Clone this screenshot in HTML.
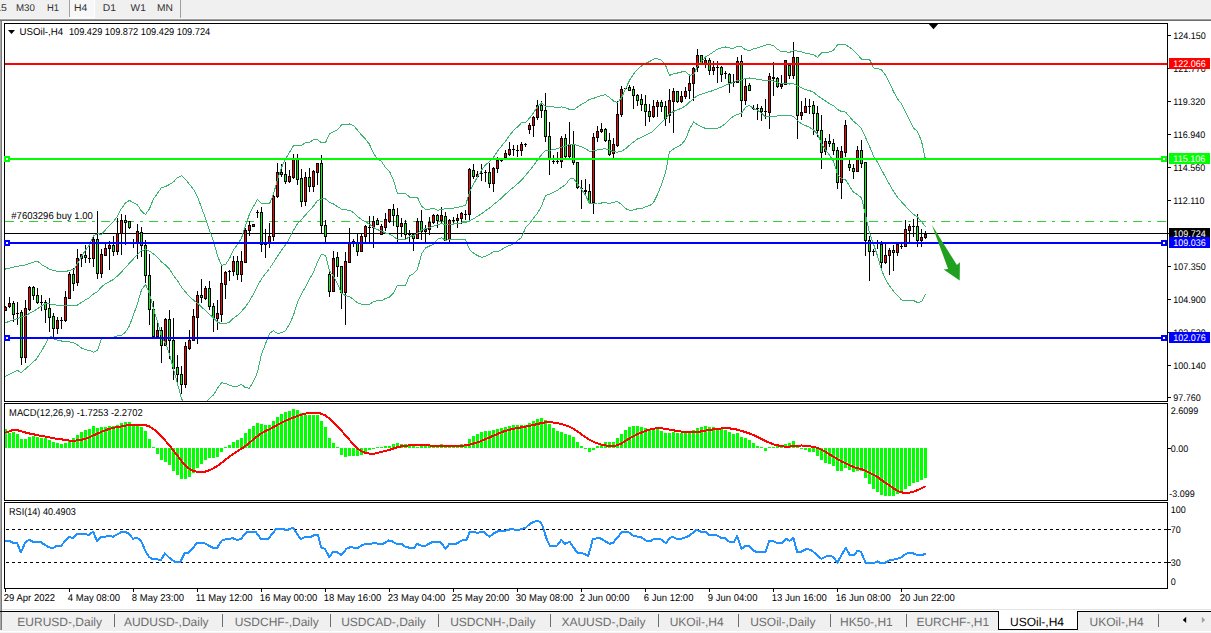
<!DOCTYPE html><html><head><meta charset="utf-8"><style>
html,body{margin:0;padding:0;background:#fff;width:1211px;height:633px;overflow:hidden}
svg{display:block}
text{font-family:"Liberation Sans",sans-serif;text-rendering:geometricPrecision}
</style></head><body>
<svg width="1211" height="633" viewBox="0 0 1211 633">
<rect x="0" y="0" width="1211" height="633" fill="#ffffff"/>
<g shape-rendering="crispEdges">
<rect x="0" y="0" width="1211" height="18" fill="#f0f0f0"/>
<rect x="0" y="18" width="1211" height="1" fill="#f6f6f6"/>
<rect x="0" y="19" width="1211" height="1" fill="#9c9c9c"/>
<rect x="0" y="20" width="1211" height="1" fill="#6e6e6e"/>
<rect x="69" y="0" width="26" height="18" fill="#f7f7f7"/>
<rect x="69" y="0" width="1" height="17" fill="#a0a0a0"/>
<rect x="69" y="17" width="26" height="1" fill="#ffffff"/>
<rect x="94" y="0" width="1" height="18" fill="#ffffff"/>
<rect x="180" y="0" width="1" height="18" fill="#a0a0a0"/>
</g>
<text x="-13.50" y="11.00" font-size="9.8" textLength="20.40" lengthAdjust="spacingAndGlyphs" fill="#333" xml:space="preserve" >M15</text>
<text x="16.00" y="11.00" font-size="9.8" textLength="18.90" lengthAdjust="spacingAndGlyphs" fill="#333" xml:space="preserve" >M30</text>
<text x="47.10" y="11.00" font-size="9.8" textLength="12.00" lengthAdjust="spacingAndGlyphs" fill="#333" xml:space="preserve" >H1</text>
<text x="73.90" y="11.00" font-size="9.8" textLength="13.30" lengthAdjust="spacingAndGlyphs" fill="#333" xml:space="preserve" >H4</text>
<text x="102.70" y="11.00" font-size="9.8" textLength="13.30" lengthAdjust="spacingAndGlyphs" fill="#333" xml:space="preserve" >D1</text>
<text x="130.60" y="11.00" font-size="9.8" textLength="15.20" lengthAdjust="spacingAndGlyphs" fill="#333" xml:space="preserve" >W1</text>
<text x="157.10" y="11.00" font-size="9.8" textLength="15.90" lengthAdjust="spacingAndGlyphs" fill="#333" xml:space="preserve" >MN</text>
<g shape-rendering="crispEdges">
<rect x="0" y="21" width="1" height="591" fill="#a8a8a8"/>
<rect x="1" y="21" width="1" height="591" fill="#7a7a7a"/>
<rect x="0" y="612" width="1" height="18" fill="#a8a8a8"/>
<rect x="1" y="612" width="1" height="18" fill="#7a7a7a"/>
<rect x="4" y="23" width="1164" height="1" fill="#000"/>
<rect x="4" y="401" width="1164" height="1" fill="#000"/>
<rect x="4" y="23" width="1" height="379" fill="#000"/>
<rect x="1167" y="23" width="1" height="379" fill="#000"/>
<rect x="4" y="403" width="1164" height="1" fill="#000"/>
<rect x="4" y="500" width="1164" height="1" fill="#000"/>
<rect x="4" y="403" width="1" height="98" fill="#000"/>
<rect x="1167" y="403" width="1" height="98" fill="#000"/>
<rect x="4" y="502" width="1164" height="1" fill="#000"/>
<rect x="4" y="588" width="1164" height="1" fill="#000"/>
<rect x="4" y="502" width="1" height="87" fill="#000"/>
<rect x="1167" y="502" width="1" height="87" fill="#000"/>
</g>
<svg x="5" y="24" width="1162" height="377" viewBox="5 24 1162 377" overflow="hidden">
<rect x="5" y="233" width="1162" height="1" fill="#000" shape-rendering="crispEdges"/>
<line x1="5" y1="221.5" x2="1167" y2="221.5" stroke="#32cd32" stroke-width="1" stroke-dasharray="9 6 3 6" stroke-dashoffset="0" shape-rendering="crispEdges"/>
<g shape-rendering="crispEdges">
<rect x="5" y="306" width="1" height="5" fill="#000"/>
<rect x="4" y="307" width="3" height="4" fill="#000"/>
<rect x="5" y="308" width="1" height="2" fill="#ff0000"/>
<rect x="9" y="297" width="1" height="11" fill="#000"/>
<rect x="8" y="303" width="3" height="4" fill="#000"/>
<rect x="9" y="304" width="1" height="2" fill="#ff0000"/>
<rect x="13" y="301" width="1" height="21" fill="#000"/>
<rect x="12" y="303" width="3" height="12" fill="#000"/>
<rect x="13" y="304" width="1" height="10" fill="#00ff00"/>
<rect x="17" y="302" width="1" height="23" fill="#000"/>
<rect x="16" y="313" width="3" height="1" fill="#000"/>
<rect x="21" y="310" width="1" height="55" fill="#000"/>
<rect x="20" y="312" width="3" height="46" fill="#000"/>
<rect x="21" y="313" width="1" height="44" fill="#00ff00"/>
<rect x="25" y="300" width="1" height="63" fill="#000"/>
<rect x="24" y="308" width="3" height="50" fill="#000"/>
<rect x="25" y="309" width="1" height="48" fill="#ff0000"/>
<rect x="29" y="286" width="1" height="25" fill="#000"/>
<rect x="28" y="287" width="3" height="23" fill="#000"/>
<rect x="29" y="288" width="1" height="21" fill="#ff0000"/>
<rect x="33" y="286" width="1" height="14" fill="#000"/>
<rect x="32" y="287" width="3" height="9" fill="#000"/>
<rect x="33" y="288" width="1" height="7" fill="#00ff00"/>
<rect x="37" y="288" width="1" height="16" fill="#000"/>
<rect x="36" y="295" width="3" height="8" fill="#000"/>
<rect x="37" y="296" width="1" height="6" fill="#00ff00"/>
<rect x="41" y="295" width="1" height="16" fill="#000"/>
<rect x="40" y="302" width="3" height="1" fill="#000"/>
<rect x="45" y="300" width="1" height="23" fill="#000"/>
<rect x="44" y="302" width="3" height="8" fill="#000"/>
<rect x="45" y="303" width="1" height="6" fill="#00ff00"/>
<rect x="49" y="298" width="1" height="34" fill="#000"/>
<rect x="48" y="308" width="3" height="10" fill="#000"/>
<rect x="49" y="309" width="1" height="8" fill="#00ff00"/>
<rect x="53" y="313" width="1" height="25" fill="#000"/>
<rect x="52" y="316" width="3" height="13" fill="#000"/>
<rect x="53" y="317" width="1" height="11" fill="#00ff00"/>
<rect x="57" y="317" width="1" height="17" fill="#000"/>
<rect x="56" y="320" width="3" height="9" fill="#000"/>
<rect x="57" y="321" width="1" height="7" fill="#ff0000"/>
<rect x="61" y="317" width="1" height="12" fill="#000"/>
<rect x="60" y="320" width="3" height="1" fill="#000"/>
<rect x="65" y="291" width="1" height="31" fill="#000"/>
<rect x="64" y="297" width="3" height="24" fill="#000"/>
<rect x="65" y="298" width="1" height="22" fill="#ff0000"/>
<rect x="69" y="272" width="1" height="27" fill="#000"/>
<rect x="68" y="274" width="3" height="25" fill="#000"/>
<rect x="69" y="275" width="1" height="23" fill="#ff0000"/>
<rect x="73" y="268" width="1" height="23" fill="#000"/>
<rect x="72" y="274" width="3" height="10" fill="#000"/>
<rect x="73" y="275" width="1" height="8" fill="#00ff00"/>
<rect x="77" y="249" width="1" height="37" fill="#000"/>
<rect x="76" y="258" width="3" height="25" fill="#000"/>
<rect x="77" y="259" width="1" height="23" fill="#ff0000"/>
<rect x="81" y="254" width="1" height="13" fill="#000"/>
<rect x="80" y="254" width="3" height="5" fill="#000"/>
<rect x="81" y="255" width="1" height="3" fill="#ff0000"/>
<rect x="85" y="245" width="1" height="18" fill="#000"/>
<rect x="84" y="255" width="3" height="3" fill="#000"/>
<rect x="85" y="256" width="1" height="1" fill="#00ff00"/>
<rect x="89" y="246" width="1" height="17" fill="#000"/>
<rect x="88" y="258" width="3" height="1" fill="#000"/>
<rect x="93" y="237" width="1" height="30" fill="#000"/>
<rect x="92" y="239" width="3" height="20" fill="#000"/>
<rect x="93" y="240" width="1" height="18" fill="#ff0000"/>
<rect x="97" y="211" width="1" height="68" fill="#000"/>
<rect x="96" y="239" width="3" height="35" fill="#000"/>
<rect x="97" y="240" width="1" height="33" fill="#00ff00"/>
<rect x="101" y="249" width="1" height="29" fill="#000"/>
<rect x="100" y="254" width="3" height="20" fill="#000"/>
<rect x="101" y="255" width="1" height="18" fill="#ff0000"/>
<rect x="105" y="244" width="1" height="12" fill="#000"/>
<rect x="104" y="248" width="3" height="8" fill="#000"/>
<rect x="105" y="249" width="1" height="6" fill="#ff0000"/>
<rect x="109" y="241" width="1" height="29" fill="#000"/>
<rect x="108" y="245" width="3" height="4" fill="#000"/>
<rect x="109" y="246" width="1" height="2" fill="#ff0000"/>
<rect x="113" y="236" width="1" height="20" fill="#000"/>
<rect x="112" y="245" width="3" height="7" fill="#000"/>
<rect x="113" y="246" width="1" height="5" fill="#00ff00"/>
<rect x="117" y="218" width="1" height="37" fill="#000"/>
<rect x="116" y="233" width="3" height="19" fill="#000"/>
<rect x="117" y="234" width="1" height="17" fill="#ff0000"/>
<rect x="121" y="214" width="1" height="41" fill="#000"/>
<rect x="120" y="220" width="3" height="14" fill="#000"/>
<rect x="121" y="221" width="1" height="12" fill="#ff0000"/>
<rect x="125" y="215" width="1" height="30" fill="#000"/>
<rect x="124" y="220" width="3" height="3" fill="#000"/>
<rect x="125" y="221" width="1" height="1" fill="#00ff00"/>
<rect x="129" y="221" width="1" height="8" fill="#000"/>
<rect x="128" y="221" width="3" height="7" fill="#000"/>
<rect x="129" y="222" width="1" height="5" fill="#00ff00"/>
<rect x="133" y="239" width="1" height="9" fill="#000"/>
<rect x="132" y="242" width="3" height="1" fill="#000"/>
<rect x="137" y="224" width="1" height="35" fill="#000"/>
<rect x="136" y="231" width="3" height="12" fill="#000"/>
<rect x="137" y="232" width="1" height="10" fill="#ff0000"/>
<rect x="141" y="227" width="1" height="30" fill="#000"/>
<rect x="140" y="232" width="3" height="14" fill="#000"/>
<rect x="141" y="233" width="1" height="12" fill="#00ff00"/>
<rect x="145" y="240" width="1" height="43" fill="#000"/>
<rect x="144" y="245" width="3" height="31" fill="#000"/>
<rect x="145" y="246" width="1" height="29" fill="#00ff00"/>
<rect x="149" y="254" width="1" height="71" fill="#000"/>
<rect x="148" y="275" width="3" height="35" fill="#000"/>
<rect x="149" y="276" width="1" height="33" fill="#00ff00"/>
<rect x="153" y="301" width="1" height="36" fill="#000"/>
<rect x="152" y="309" width="3" height="28" fill="#000"/>
<rect x="153" y="310" width="1" height="26" fill="#00ff00"/>
<rect x="157" y="323" width="1" height="14" fill="#000"/>
<rect x="156" y="330" width="3" height="7" fill="#000"/>
<rect x="157" y="331" width="1" height="5" fill="#ff0000"/>
<rect x="161" y="327" width="1" height="36" fill="#000"/>
<rect x="160" y="330" width="3" height="16" fill="#000"/>
<rect x="161" y="331" width="1" height="14" fill="#00ff00"/>
<rect x="165" y="318" width="1" height="28" fill="#000"/>
<rect x="164" y="319" width="3" height="27" fill="#000"/>
<rect x="165" y="320" width="1" height="25" fill="#ff0000"/>
<rect x="169" y="310" width="1" height="49" fill="#000"/>
<rect x="168" y="319" width="3" height="22" fill="#000"/>
<rect x="169" y="320" width="1" height="20" fill="#00ff00"/>
<rect x="173" y="318" width="1" height="62" fill="#000"/>
<rect x="172" y="340" width="3" height="29" fill="#000"/>
<rect x="173" y="341" width="1" height="27" fill="#00ff00"/>
<rect x="177" y="355" width="1" height="27" fill="#000"/>
<rect x="176" y="367" width="3" height="8" fill="#000"/>
<rect x="177" y="368" width="1" height="6" fill="#00ff00"/>
<rect x="181" y="366" width="1" height="28" fill="#000"/>
<rect x="180" y="374" width="3" height="11" fill="#000"/>
<rect x="181" y="375" width="1" height="9" fill="#00ff00"/>
<rect x="185" y="342" width="1" height="46" fill="#000"/>
<rect x="184" y="346" width="3" height="39" fill="#000"/>
<rect x="185" y="347" width="1" height="37" fill="#ff0000"/>
<rect x="189" y="330" width="1" height="20" fill="#000"/>
<rect x="188" y="340" width="3" height="9" fill="#000"/>
<rect x="189" y="341" width="1" height="7" fill="#ff0000"/>
<rect x="193" y="309" width="1" height="32" fill="#000"/>
<rect x="192" y="316" width="3" height="25" fill="#000"/>
<rect x="193" y="317" width="1" height="23" fill="#ff0000"/>
<rect x="197" y="291" width="1" height="53" fill="#000"/>
<rect x="196" y="295" width="3" height="23" fill="#000"/>
<rect x="197" y="296" width="1" height="21" fill="#ff0000"/>
<rect x="201" y="279" width="1" height="24" fill="#000"/>
<rect x="200" y="295" width="3" height="3" fill="#000"/>
<rect x="201" y="296" width="1" height="1" fill="#00ff00"/>
<rect x="205" y="286" width="1" height="14" fill="#000"/>
<rect x="204" y="288" width="3" height="11" fill="#000"/>
<rect x="205" y="289" width="1" height="9" fill="#ff0000"/>
<rect x="209" y="281" width="1" height="29" fill="#000"/>
<rect x="208" y="288" width="3" height="19" fill="#000"/>
<rect x="209" y="289" width="1" height="17" fill="#00ff00"/>
<rect x="213" y="303" width="1" height="29" fill="#000"/>
<rect x="212" y="306" width="3" height="12" fill="#000"/>
<rect x="213" y="307" width="1" height="10" fill="#00ff00"/>
<rect x="217" y="300" width="1" height="30" fill="#000"/>
<rect x="216" y="313" width="3" height="6" fill="#000"/>
<rect x="217" y="314" width="1" height="4" fill="#ff0000"/>
<rect x="221" y="266" width="1" height="56" fill="#000"/>
<rect x="220" y="283" width="3" height="32" fill="#000"/>
<rect x="221" y="284" width="1" height="30" fill="#ff0000"/>
<rect x="225" y="271" width="1" height="28" fill="#000"/>
<rect x="224" y="272" width="3" height="13" fill="#000"/>
<rect x="225" y="273" width="1" height="11" fill="#ff0000"/>
<rect x="229" y="270" width="1" height="11" fill="#000"/>
<rect x="228" y="271" width="3" height="1" fill="#000"/>
<rect x="233" y="256" width="1" height="20" fill="#000"/>
<rect x="232" y="261" width="3" height="11" fill="#000"/>
<rect x="233" y="262" width="1" height="9" fill="#ff0000"/>
<rect x="237" y="256" width="1" height="24" fill="#000"/>
<rect x="236" y="261" width="3" height="14" fill="#000"/>
<rect x="237" y="262" width="1" height="12" fill="#00ff00"/>
<rect x="241" y="251" width="1" height="31" fill="#000"/>
<rect x="240" y="261" width="3" height="14" fill="#000"/>
<rect x="241" y="262" width="1" height="12" fill="#ff0000"/>
<rect x="245" y="228" width="1" height="35" fill="#000"/>
<rect x="244" y="230" width="3" height="33" fill="#000"/>
<rect x="245" y="231" width="1" height="31" fill="#ff0000"/>
<rect x="249" y="221" width="1" height="15" fill="#000"/>
<rect x="248" y="225" width="3" height="6" fill="#000"/>
<rect x="249" y="226" width="1" height="4" fill="#ff0000"/>
<rect x="253" y="224" width="1" height="3" fill="#000"/>
<rect x="252" y="224" width="3" height="3" fill="#000"/>
<rect x="253" y="225" width="1" height="1" fill="#ff0000"/>
<rect x="257" y="210" width="1" height="8" fill="#000"/>
<rect x="256" y="212" width="3" height="1" fill="#000"/>
<rect x="261" y="207" width="1" height="45" fill="#000"/>
<rect x="260" y="212" width="3" height="33" fill="#000"/>
<rect x="261" y="213" width="1" height="31" fill="#00ff00"/>
<rect x="265" y="229" width="1" height="29" fill="#000"/>
<rect x="264" y="244" width="3" height="1" fill="#000"/>
<rect x="269" y="223" width="1" height="25" fill="#000"/>
<rect x="268" y="236" width="3" height="7" fill="#000"/>
<rect x="269" y="237" width="1" height="5" fill="#ff0000"/>
<rect x="273" y="195" width="1" height="46" fill="#000"/>
<rect x="272" y="196" width="3" height="41" fill="#000"/>
<rect x="273" y="197" width="1" height="39" fill="#ff0000"/>
<rect x="277" y="163" width="1" height="35" fill="#000"/>
<rect x="276" y="172" width="3" height="25" fill="#000"/>
<rect x="277" y="173" width="1" height="23" fill="#ff0000"/>
<rect x="281" y="164" width="1" height="13" fill="#000"/>
<rect x="280" y="172" width="3" height="3" fill="#000"/>
<rect x="281" y="173" width="1" height="1" fill="#00ff00"/>
<rect x="285" y="162" width="1" height="22" fill="#000"/>
<rect x="284" y="174" width="3" height="8" fill="#000"/>
<rect x="285" y="175" width="1" height="6" fill="#00ff00"/>
<rect x="289" y="170" width="1" height="13" fill="#000"/>
<rect x="288" y="176" width="3" height="6" fill="#000"/>
<rect x="289" y="177" width="1" height="4" fill="#ff0000"/>
<rect x="293" y="154" width="1" height="25" fill="#000"/>
<rect x="292" y="159" width="3" height="19" fill="#000"/>
<rect x="293" y="160" width="1" height="17" fill="#ff0000"/>
<rect x="297" y="154" width="1" height="31" fill="#000"/>
<rect x="296" y="159" width="3" height="21" fill="#000"/>
<rect x="297" y="160" width="1" height="19" fill="#00ff00"/>
<rect x="301" y="169" width="1" height="38" fill="#000"/>
<rect x="300" y="178" width="3" height="24" fill="#000"/>
<rect x="301" y="179" width="1" height="22" fill="#00ff00"/>
<rect x="305" y="172" width="1" height="34" fill="#000"/>
<rect x="304" y="177" width="3" height="25" fill="#000"/>
<rect x="305" y="178" width="1" height="23" fill="#ff0000"/>
<rect x="309" y="168" width="1" height="24" fill="#000"/>
<rect x="308" y="177" width="3" height="10" fill="#000"/>
<rect x="309" y="178" width="1" height="8" fill="#00ff00"/>
<rect x="313" y="170" width="1" height="22" fill="#000"/>
<rect x="312" y="171" width="3" height="16" fill="#000"/>
<rect x="313" y="172" width="1" height="14" fill="#ff0000"/>
<rect x="317" y="163" width="1" height="22" fill="#000"/>
<rect x="316" y="163" width="3" height="10" fill="#000"/>
<rect x="317" y="164" width="1" height="8" fill="#ff0000"/>
<rect x="321" y="155" width="1" height="79" fill="#000"/>
<rect x="320" y="163" width="3" height="63" fill="#000"/>
<rect x="321" y="164" width="1" height="61" fill="#00ff00"/>
<rect x="325" y="220" width="1" height="24" fill="#000"/>
<rect x="324" y="225" width="3" height="12" fill="#000"/>
<rect x="325" y="226" width="1" height="10" fill="#00ff00"/>
<rect x="329" y="271" width="1" height="26" fill="#000"/>
<rect x="328" y="274" width="3" height="18" fill="#000"/>
<rect x="329" y="275" width="1" height="16" fill="#00ff00"/>
<rect x="333" y="251" width="1" height="41" fill="#000"/>
<rect x="332" y="258" width="3" height="34" fill="#000"/>
<rect x="333" y="259" width="1" height="32" fill="#ff0000"/>
<rect x="337" y="252" width="1" height="25" fill="#000"/>
<rect x="336" y="257" width="3" height="10" fill="#000"/>
<rect x="337" y="258" width="1" height="8" fill="#00ff00"/>
<rect x="341" y="266" width="1" height="43" fill="#000"/>
<rect x="340" y="266" width="3" height="27" fill="#000"/>
<rect x="341" y="267" width="1" height="25" fill="#00ff00"/>
<rect x="345" y="252" width="1" height="73" fill="#000"/>
<rect x="344" y="261" width="3" height="32" fill="#000"/>
<rect x="345" y="262" width="1" height="30" fill="#ff0000"/>
<rect x="349" y="228" width="1" height="35" fill="#000"/>
<rect x="348" y="243" width="3" height="20" fill="#000"/>
<rect x="349" y="244" width="1" height="18" fill="#ff0000"/>
<rect x="353" y="239" width="1" height="8" fill="#000"/>
<rect x="352" y="241" width="3" height="1" fill="#000"/>
<rect x="357" y="234" width="1" height="22" fill="#000"/>
<rect x="356" y="243" width="3" height="9" fill="#000"/>
<rect x="357" y="244" width="1" height="7" fill="#00ff00"/>
<rect x="361" y="234" width="1" height="18" fill="#000"/>
<rect x="360" y="236" width="3" height="16" fill="#000"/>
<rect x="361" y="237" width="1" height="14" fill="#ff0000"/>
<rect x="365" y="225" width="1" height="18" fill="#000"/>
<rect x="364" y="226" width="3" height="11" fill="#000"/>
<rect x="365" y="227" width="1" height="9" fill="#ff0000"/>
<rect x="369" y="216" width="1" height="27" fill="#000"/>
<rect x="368" y="227" width="3" height="1" fill="#000"/>
<rect x="373" y="216" width="1" height="32" fill="#000"/>
<rect x="372" y="221" width="3" height="7" fill="#000"/>
<rect x="373" y="222" width="1" height="5" fill="#ff0000"/>
<rect x="377" y="218" width="1" height="7" fill="#000"/>
<rect x="376" y="220" width="3" height="5" fill="#000"/>
<rect x="377" y="221" width="1" height="3" fill="#00ff00"/>
<rect x="381" y="224" width="1" height="11" fill="#000"/>
<rect x="380" y="226" width="3" height="9" fill="#000"/>
<rect x="381" y="227" width="1" height="7" fill="#ff0000"/>
<rect x="385" y="213" width="1" height="18" fill="#000"/>
<rect x="384" y="219" width="3" height="9" fill="#000"/>
<rect x="385" y="220" width="1" height="7" fill="#ff0000"/>
<rect x="389" y="209" width="1" height="14" fill="#000"/>
<rect x="388" y="209" width="3" height="13" fill="#000"/>
<rect x="389" y="210" width="1" height="11" fill="#ff0000"/>
<rect x="393" y="204" width="1" height="22" fill="#000"/>
<rect x="392" y="209" width="3" height="7" fill="#000"/>
<rect x="393" y="210" width="1" height="5" fill="#00ff00"/>
<rect x="397" y="208" width="1" height="35" fill="#000"/>
<rect x="396" y="215" width="3" height="12" fill="#000"/>
<rect x="397" y="216" width="1" height="10" fill="#00ff00"/>
<rect x="401" y="218" width="1" height="19" fill="#000"/>
<rect x="400" y="223" width="3" height="4" fill="#000"/>
<rect x="401" y="224" width="1" height="2" fill="#ff0000"/>
<rect x="405" y="220" width="1" height="20" fill="#000"/>
<rect x="404" y="223" width="3" height="12" fill="#000"/>
<rect x="405" y="224" width="1" height="10" fill="#00ff00"/>
<rect x="409" y="230" width="1" height="13" fill="#000"/>
<rect x="408" y="234" width="3" height="1" fill="#000"/>
<rect x="413" y="234" width="1" height="17" fill="#000"/>
<rect x="412" y="234" width="3" height="5" fill="#000"/>
<rect x="413" y="235" width="1" height="3" fill="#00ff00"/>
<rect x="417" y="218" width="1" height="21" fill="#000"/>
<rect x="416" y="221" width="3" height="18" fill="#000"/>
<rect x="417" y="222" width="1" height="16" fill="#ff0000"/>
<rect x="421" y="210" width="1" height="30" fill="#000"/>
<rect x="420" y="221" width="3" height="11" fill="#000"/>
<rect x="421" y="222" width="1" height="9" fill="#00ff00"/>
<rect x="425" y="225" width="1" height="18" fill="#000"/>
<rect x="424" y="229" width="3" height="3" fill="#000"/>
<rect x="425" y="230" width="1" height="1" fill="#ff0000"/>
<rect x="429" y="217" width="1" height="18" fill="#000"/>
<rect x="428" y="222" width="3" height="8" fill="#000"/>
<rect x="429" y="223" width="1" height="6" fill="#ff0000"/>
<rect x="433" y="214" width="1" height="10" fill="#000"/>
<rect x="432" y="215" width="3" height="8" fill="#000"/>
<rect x="433" y="216" width="1" height="6" fill="#ff0000"/>
<rect x="437" y="214" width="1" height="14" fill="#000"/>
<rect x="436" y="215" width="3" height="6" fill="#000"/>
<rect x="437" y="216" width="1" height="4" fill="#00ff00"/>
<rect x="441" y="207" width="1" height="16" fill="#000"/>
<rect x="440" y="215" width="3" height="6" fill="#000"/>
<rect x="441" y="216" width="1" height="4" fill="#ff0000"/>
<rect x="445" y="212" width="1" height="29" fill="#000"/>
<rect x="444" y="216" width="3" height="25" fill="#000"/>
<rect x="445" y="217" width="1" height="23" fill="#00ff00"/>
<rect x="449" y="219" width="1" height="23" fill="#000"/>
<rect x="448" y="220" width="3" height="20" fill="#000"/>
<rect x="449" y="221" width="1" height="18" fill="#ff0000"/>
<rect x="453" y="217" width="1" height="6" fill="#000"/>
<rect x="452" y="220" width="3" height="1" fill="#000"/>
<rect x="457" y="214" width="1" height="14" fill="#000"/>
<rect x="456" y="218" width="3" height="3" fill="#000"/>
<rect x="457" y="219" width="1" height="1" fill="#ff0000"/>
<rect x="461" y="212" width="1" height="12" fill="#000"/>
<rect x="460" y="213" width="3" height="6" fill="#000"/>
<rect x="461" y="214" width="1" height="4" fill="#ff0000"/>
<rect x="465" y="210" width="1" height="10" fill="#000"/>
<rect x="464" y="214" width="3" height="1" fill="#000"/>
<rect x="469" y="168" width="1" height="53" fill="#000"/>
<rect x="468" y="169" width="3" height="46" fill="#000"/>
<rect x="469" y="170" width="1" height="44" fill="#ff0000"/>
<rect x="473" y="164" width="1" height="15" fill="#000"/>
<rect x="472" y="170" width="3" height="7" fill="#000"/>
<rect x="473" y="171" width="1" height="5" fill="#00ff00"/>
<rect x="477" y="171" width="1" height="7" fill="#000"/>
<rect x="476" y="174" width="3" height="3" fill="#000"/>
<rect x="477" y="175" width="1" height="1" fill="#ff0000"/>
<rect x="481" y="164" width="1" height="17" fill="#000"/>
<rect x="480" y="173" width="3" height="1" fill="#000"/>
<rect x="485" y="170" width="1" height="12" fill="#000"/>
<rect x="484" y="172" width="3" height="1" fill="#000"/>
<rect x="489" y="163" width="1" height="25" fill="#000"/>
<rect x="488" y="172" width="3" height="12" fill="#000"/>
<rect x="489" y="173" width="1" height="10" fill="#00ff00"/>
<rect x="493" y="167" width="1" height="25" fill="#000"/>
<rect x="492" y="168" width="3" height="16" fill="#000"/>
<rect x="493" y="169" width="1" height="14" fill="#ff0000"/>
<rect x="497" y="157" width="1" height="16" fill="#000"/>
<rect x="496" y="160" width="3" height="9" fill="#000"/>
<rect x="497" y="161" width="1" height="7" fill="#ff0000"/>
<rect x="501" y="159" width="1" height="3" fill="#000"/>
<rect x="500" y="160" width="3" height="1" fill="#000"/>
<rect x="505" y="150" width="1" height="8" fill="#000"/>
<rect x="504" y="153" width="3" height="5" fill="#000"/>
<rect x="505" y="154" width="1" height="3" fill="#ff0000"/>
<rect x="509" y="142" width="1" height="14" fill="#000"/>
<rect x="508" y="149" width="3" height="6" fill="#000"/>
<rect x="509" y="150" width="1" height="4" fill="#ff0000"/>
<rect x="513" y="145" width="1" height="11" fill="#000"/>
<rect x="512" y="149" width="3" height="1" fill="#000"/>
<rect x="517" y="145" width="1" height="12" fill="#000"/>
<rect x="516" y="150" width="3" height="1" fill="#000"/>
<rect x="521" y="142" width="1" height="14" fill="#000"/>
<rect x="520" y="144" width="3" height="7" fill="#000"/>
<rect x="521" y="145" width="1" height="5" fill="#ff0000"/>
<rect x="525" y="143" width="1" height="4" fill="#000"/>
<rect x="524" y="144" width="3" height="1" fill="#000"/>
<rect x="529" y="123" width="1" height="11" fill="#000"/>
<rect x="528" y="125" width="3" height="5" fill="#000"/>
<rect x="529" y="126" width="1" height="3" fill="#ff0000"/>
<rect x="533" y="116" width="1" height="21" fill="#000"/>
<rect x="532" y="117" width="3" height="9" fill="#000"/>
<rect x="533" y="118" width="1" height="7" fill="#ff0000"/>
<rect x="537" y="100" width="1" height="20" fill="#000"/>
<rect x="536" y="105" width="3" height="13" fill="#000"/>
<rect x="537" y="106" width="1" height="11" fill="#ff0000"/>
<rect x="541" y="101" width="1" height="17" fill="#000"/>
<rect x="540" y="105" width="3" height="6" fill="#000"/>
<rect x="541" y="106" width="1" height="4" fill="#00ff00"/>
<rect x="545" y="93" width="1" height="49" fill="#000"/>
<rect x="544" y="110" width="3" height="27" fill="#000"/>
<rect x="545" y="111" width="1" height="25" fill="#00ff00"/>
<rect x="549" y="122" width="1" height="53" fill="#000"/>
<rect x="548" y="136" width="3" height="23" fill="#000"/>
<rect x="549" y="137" width="1" height="21" fill="#00ff00"/>
<rect x="553" y="155" width="1" height="9" fill="#000"/>
<rect x="552" y="161" width="3" height="1" fill="#000"/>
<rect x="557" y="152" width="1" height="12" fill="#000"/>
<rect x="556" y="161" width="3" height="1" fill="#000"/>
<rect x="561" y="136" width="1" height="32" fill="#000"/>
<rect x="560" y="138" width="3" height="24" fill="#000"/>
<rect x="561" y="139" width="1" height="22" fill="#ff0000"/>
<rect x="565" y="134" width="1" height="25" fill="#000"/>
<rect x="564" y="138" width="3" height="19" fill="#000"/>
<rect x="565" y="139" width="1" height="17" fill="#00ff00"/>
<rect x="569" y="122" width="1" height="36" fill="#000"/>
<rect x="568" y="144" width="3" height="13" fill="#000"/>
<rect x="569" y="145" width="1" height="11" fill="#ff0000"/>
<rect x="573" y="131" width="1" height="34" fill="#000"/>
<rect x="572" y="144" width="3" height="19" fill="#000"/>
<rect x="573" y="145" width="1" height="17" fill="#00ff00"/>
<rect x="577" y="162" width="1" height="27" fill="#000"/>
<rect x="576" y="162" width="3" height="26" fill="#000"/>
<rect x="577" y="163" width="1" height="24" fill="#00ff00"/>
<rect x="581" y="180" width="1" height="29" fill="#000"/>
<rect x="580" y="188" width="3" height="1" fill="#000"/>
<rect x="585" y="179" width="1" height="15" fill="#000"/>
<rect x="584" y="190" width="3" height="2" fill="#000"/>
<rect x="589" y="184" width="1" height="20" fill="#000"/>
<rect x="588" y="191" width="3" height="12" fill="#000"/>
<rect x="589" y="192" width="1" height="10" fill="#00ff00"/>
<rect x="593" y="133" width="1" height="81" fill="#000"/>
<rect x="592" y="137" width="3" height="66" fill="#000"/>
<rect x="593" y="138" width="1" height="64" fill="#ff0000"/>
<rect x="597" y="126" width="1" height="16" fill="#000"/>
<rect x="596" y="131" width="3" height="7" fill="#000"/>
<rect x="597" y="132" width="1" height="5" fill="#ff0000"/>
<rect x="601" y="123" width="1" height="10" fill="#000"/>
<rect x="600" y="129" width="3" height="3" fill="#000"/>
<rect x="601" y="130" width="1" height="1" fill="#ff0000"/>
<rect x="605" y="128" width="1" height="14" fill="#000"/>
<rect x="604" y="129" width="3" height="12" fill="#000"/>
<rect x="605" y="130" width="1" height="10" fill="#00ff00"/>
<rect x="609" y="133" width="1" height="23" fill="#000"/>
<rect x="608" y="140" width="3" height="15" fill="#000"/>
<rect x="609" y="141" width="1" height="13" fill="#00ff00"/>
<rect x="613" y="138" width="1" height="21" fill="#000"/>
<rect x="612" y="144" width="3" height="10" fill="#000"/>
<rect x="613" y="145" width="1" height="8" fill="#ff0000"/>
<rect x="617" y="101" width="1" height="46" fill="#000"/>
<rect x="616" y="114" width="3" height="32" fill="#000"/>
<rect x="617" y="115" width="1" height="30" fill="#ff0000"/>
<rect x="621" y="86" width="1" height="31" fill="#000"/>
<rect x="620" y="89" width="3" height="26" fill="#000"/>
<rect x="621" y="90" width="1" height="24" fill="#ff0000"/>
<rect x="625" y="88" width="1" height="2" fill="#000"/>
<rect x="624" y="88" width="3" height="1" fill="#000"/>
<rect x="629" y="85" width="1" height="6" fill="#000"/>
<rect x="628" y="87" width="3" height="4" fill="#000"/>
<rect x="629" y="88" width="1" height="2" fill="#00ff00"/>
<rect x="633" y="86" width="1" height="23" fill="#000"/>
<rect x="632" y="89" width="3" height="7" fill="#000"/>
<rect x="633" y="90" width="1" height="5" fill="#00ff00"/>
<rect x="637" y="94" width="1" height="12" fill="#000"/>
<rect x="636" y="95" width="3" height="6" fill="#000"/>
<rect x="637" y="96" width="1" height="4" fill="#00ff00"/>
<rect x="641" y="94" width="1" height="17" fill="#000"/>
<rect x="640" y="99" width="3" height="6" fill="#000"/>
<rect x="641" y="100" width="1" height="4" fill="#00ff00"/>
<rect x="645" y="95" width="1" height="31" fill="#000"/>
<rect x="644" y="104" width="3" height="8" fill="#000"/>
<rect x="645" y="105" width="1" height="6" fill="#00ff00"/>
<rect x="649" y="104" width="1" height="18" fill="#000"/>
<rect x="648" y="111" width="3" height="6" fill="#000"/>
<rect x="649" y="112" width="1" height="4" fill="#00ff00"/>
<rect x="653" y="100" width="1" height="18" fill="#000"/>
<rect x="652" y="106" width="3" height="11" fill="#000"/>
<rect x="653" y="107" width="1" height="9" fill="#ff0000"/>
<rect x="657" y="100" width="1" height="17" fill="#000"/>
<rect x="656" y="102" width="3" height="5" fill="#000"/>
<rect x="657" y="103" width="1" height="3" fill="#ff0000"/>
<rect x="661" y="100" width="1" height="12" fill="#000"/>
<rect x="660" y="102" width="3" height="5" fill="#000"/>
<rect x="661" y="103" width="1" height="3" fill="#00ff00"/>
<rect x="665" y="101" width="1" height="25" fill="#000"/>
<rect x="664" y="106" width="3" height="13" fill="#000"/>
<rect x="665" y="107" width="1" height="11" fill="#00ff00"/>
<rect x="669" y="89" width="1" height="34" fill="#000"/>
<rect x="668" y="100" width="3" height="16" fill="#000"/>
<rect x="669" y="101" width="1" height="14" fill="#ff0000"/>
<rect x="673" y="88" width="1" height="45" fill="#000"/>
<rect x="672" y="91" width="3" height="11" fill="#000"/>
<rect x="673" y="92" width="1" height="9" fill="#ff0000"/>
<rect x="677" y="91" width="1" height="12" fill="#000"/>
<rect x="676" y="91" width="3" height="11" fill="#000"/>
<rect x="677" y="92" width="1" height="9" fill="#00ff00"/>
<rect x="681" y="91" width="1" height="12" fill="#000"/>
<rect x="680" y="96" width="3" height="6" fill="#000"/>
<rect x="681" y="97" width="1" height="4" fill="#ff0000"/>
<rect x="685" y="87" width="1" height="12" fill="#000"/>
<rect x="684" y="91" width="3" height="6" fill="#000"/>
<rect x="685" y="92" width="1" height="4" fill="#ff0000"/>
<rect x="689" y="75" width="1" height="24" fill="#000"/>
<rect x="688" y="83" width="3" height="8" fill="#000"/>
<rect x="689" y="84" width="1" height="6" fill="#ff0000"/>
<rect x="693" y="67" width="1" height="34" fill="#000"/>
<rect x="692" y="68" width="3" height="16" fill="#000"/>
<rect x="693" y="69" width="1" height="14" fill="#ff0000"/>
<rect x="697" y="49" width="1" height="23" fill="#000"/>
<rect x="696" y="55" width="3" height="13" fill="#000"/>
<rect x="697" y="56" width="1" height="11" fill="#ff0000"/>
<rect x="701" y="55" width="1" height="9" fill="#000"/>
<rect x="700" y="55" width="3" height="9" fill="#000"/>
<rect x="701" y="56" width="1" height="7" fill="#00ff00"/>
<rect x="705" y="56" width="1" height="12" fill="#000"/>
<rect x="704" y="60" width="3" height="4" fill="#000"/>
<rect x="705" y="61" width="1" height="2" fill="#ff0000"/>
<rect x="709" y="58" width="1" height="17" fill="#000"/>
<rect x="708" y="60" width="3" height="11" fill="#000"/>
<rect x="709" y="61" width="1" height="9" fill="#00ff00"/>
<rect x="713" y="61" width="1" height="14" fill="#000"/>
<rect x="712" y="67" width="3" height="4" fill="#000"/>
<rect x="713" y="68" width="1" height="2" fill="#ff0000"/>
<rect x="717" y="61" width="1" height="22" fill="#000"/>
<rect x="716" y="67" width="3" height="1" fill="#000"/>
<rect x="721" y="66" width="1" height="16" fill="#000"/>
<rect x="720" y="67" width="3" height="8" fill="#000"/>
<rect x="721" y="68" width="1" height="6" fill="#00ff00"/>
<rect x="725" y="71" width="1" height="8" fill="#000"/>
<rect x="724" y="73" width="3" height="1" fill="#000"/>
<rect x="729" y="73" width="1" height="20" fill="#000"/>
<rect x="728" y="74" width="3" height="9" fill="#000"/>
<rect x="729" y="75" width="1" height="7" fill="#00ff00"/>
<rect x="733" y="74" width="1" height="13" fill="#000"/>
<rect x="732" y="82" width="3" height="1" fill="#000"/>
<rect x="737" y="57" width="1" height="26" fill="#000"/>
<rect x="736" y="61" width="3" height="22" fill="#000"/>
<rect x="737" y="62" width="1" height="20" fill="#ff0000"/>
<rect x="741" y="55" width="1" height="62" fill="#000"/>
<rect x="740" y="61" width="3" height="40" fill="#000"/>
<rect x="741" y="62" width="1" height="38" fill="#00ff00"/>
<rect x="745" y="79" width="1" height="26" fill="#000"/>
<rect x="744" y="86" width="3" height="15" fill="#000"/>
<rect x="745" y="87" width="1" height="13" fill="#ff0000"/>
<rect x="749" y="83" width="1" height="8" fill="#000"/>
<rect x="748" y="85" width="3" height="6" fill="#000"/>
<rect x="749" y="86" width="1" height="4" fill="#00ff00"/>
<rect x="753" y="105" width="1" height="5" fill="#000"/>
<rect x="752" y="108" width="3" height="1" fill="#000"/>
<rect x="757" y="104" width="1" height="16" fill="#000"/>
<rect x="756" y="108" width="3" height="1" fill="#000"/>
<rect x="761" y="106" width="1" height="15" fill="#000"/>
<rect x="760" y="108" width="3" height="4" fill="#000"/>
<rect x="761" y="109" width="1" height="2" fill="#00ff00"/>
<rect x="765" y="99" width="1" height="20" fill="#000"/>
<rect x="764" y="111" width="3" height="1" fill="#000"/>
<rect x="769" y="73" width="1" height="56" fill="#000"/>
<rect x="768" y="76" width="3" height="37" fill="#000"/>
<rect x="769" y="77" width="1" height="35" fill="#ff0000"/>
<rect x="773" y="62" width="1" height="34" fill="#000"/>
<rect x="772" y="77" width="3" height="2" fill="#000"/>
<rect x="777" y="77" width="1" height="11" fill="#000"/>
<rect x="776" y="78" width="3" height="9" fill="#000"/>
<rect x="777" y="79" width="1" height="7" fill="#00ff00"/>
<rect x="781" y="75" width="1" height="14" fill="#000"/>
<rect x="780" y="84" width="3" height="3" fill="#000"/>
<rect x="781" y="85" width="1" height="1" fill="#ff0000"/>
<rect x="785" y="60" width="1" height="25" fill="#000"/>
<rect x="784" y="60" width="3" height="25" fill="#000"/>
<rect x="785" y="61" width="1" height="23" fill="#ff0000"/>
<rect x="789" y="64" width="1" height="15" fill="#000"/>
<rect x="788" y="65" width="3" height="11" fill="#000"/>
<rect x="789" y="66" width="1" height="9" fill="#00ff00"/>
<rect x="793" y="42" width="1" height="37" fill="#000"/>
<rect x="792" y="57" width="3" height="19" fill="#000"/>
<rect x="793" y="58" width="1" height="17" fill="#ff0000"/>
<rect x="797" y="57" width="1" height="82" fill="#000"/>
<rect x="796" y="57" width="3" height="59" fill="#000"/>
<rect x="797" y="58" width="1" height="57" fill="#00ff00"/>
<rect x="801" y="101" width="1" height="19" fill="#000"/>
<rect x="800" y="112" width="3" height="4" fill="#000"/>
<rect x="801" y="113" width="1" height="2" fill="#ff0000"/>
<rect x="805" y="98" width="1" height="15" fill="#000"/>
<rect x="804" y="106" width="3" height="7" fill="#000"/>
<rect x="805" y="107" width="1" height="5" fill="#ff0000"/>
<rect x="809" y="99" width="1" height="15" fill="#000"/>
<rect x="808" y="106" width="3" height="1" fill="#000"/>
<rect x="813" y="101" width="1" height="34" fill="#000"/>
<rect x="812" y="105" width="3" height="9" fill="#000"/>
<rect x="813" y="106" width="1" height="7" fill="#00ff00"/>
<rect x="817" y="106" width="1" height="31" fill="#000"/>
<rect x="816" y="113" width="3" height="18" fill="#000"/>
<rect x="817" y="114" width="1" height="16" fill="#00ff00"/>
<rect x="821" y="115" width="1" height="54" fill="#000"/>
<rect x="820" y="130" width="3" height="23" fill="#000"/>
<rect x="821" y="131" width="1" height="21" fill="#00ff00"/>
<rect x="825" y="138" width="1" height="17" fill="#000"/>
<rect x="824" y="141" width="3" height="11" fill="#000"/>
<rect x="825" y="142" width="1" height="9" fill="#ff0000"/>
<rect x="829" y="134" width="1" height="13" fill="#000"/>
<rect x="828" y="141" width="3" height="3" fill="#000"/>
<rect x="829" y="142" width="1" height="1" fill="#00ff00"/>
<rect x="833" y="139" width="1" height="16" fill="#000"/>
<rect x="832" y="143" width="3" height="8" fill="#000"/>
<rect x="833" y="144" width="1" height="6" fill="#00ff00"/>
<rect x="837" y="147" width="1" height="42" fill="#000"/>
<rect x="836" y="150" width="3" height="33" fill="#000"/>
<rect x="837" y="151" width="1" height="31" fill="#00ff00"/>
<rect x="841" y="146" width="1" height="53" fill="#000"/>
<rect x="840" y="151" width="3" height="32" fill="#000"/>
<rect x="841" y="152" width="1" height="30" fill="#ff0000"/>
<rect x="845" y="120" width="1" height="37" fill="#000"/>
<rect x="844" y="125" width="3" height="28" fill="#000"/>
<rect x="845" y="126" width="1" height="26" fill="#ff0000"/>
<rect x="849" y="160" width="1" height="11" fill="#000"/>
<rect x="848" y="164" width="3" height="4" fill="#000"/>
<rect x="849" y="165" width="1" height="2" fill="#00ff00"/>
<rect x="853" y="164" width="1" height="15" fill="#000"/>
<rect x="852" y="168" width="3" height="4" fill="#000"/>
<rect x="853" y="169" width="1" height="2" fill="#00ff00"/>
<rect x="857" y="146" width="1" height="26" fill="#000"/>
<rect x="856" y="150" width="3" height="22" fill="#000"/>
<rect x="857" y="151" width="1" height="20" fill="#ff0000"/>
<rect x="861" y="140" width="1" height="28" fill="#000"/>
<rect x="860" y="150" width="3" height="14" fill="#000"/>
<rect x="861" y="151" width="1" height="12" fill="#00ff00"/>
<rect x="865" y="162" width="1" height="94" fill="#000"/>
<rect x="864" y="162" width="3" height="79" fill="#000"/>
<rect x="865" y="163" width="1" height="77" fill="#00ff00"/>
<rect x="869" y="236" width="1" height="45" fill="#000"/>
<rect x="868" y="240" width="3" height="12" fill="#000"/>
<rect x="869" y="241" width="1" height="10" fill="#00ff00"/>
<rect x="873" y="249" width="1" height="7" fill="#000"/>
<rect x="872" y="251" width="3" height="1" fill="#000"/>
<rect x="877" y="240" width="1" height="9" fill="#000"/>
<rect x="876" y="243" width="3" height="1" fill="#000"/>
<rect x="881" y="241" width="1" height="29" fill="#000"/>
<rect x="880" y="244" width="3" height="19" fill="#000"/>
<rect x="881" y="245" width="1" height="17" fill="#00ff00"/>
<rect x="885" y="244" width="1" height="20" fill="#000"/>
<rect x="884" y="255" width="3" height="8" fill="#000"/>
<rect x="885" y="256" width="1" height="6" fill="#ff0000"/>
<rect x="889" y="248" width="1" height="27" fill="#000"/>
<rect x="888" y="250" width="3" height="6" fill="#000"/>
<rect x="889" y="251" width="1" height="4" fill="#ff0000"/>
<rect x="893" y="245" width="1" height="26" fill="#000"/>
<rect x="892" y="250" width="3" height="3" fill="#000"/>
<rect x="893" y="251" width="1" height="1" fill="#00ff00"/>
<rect x="897" y="244" width="1" height="12" fill="#000"/>
<rect x="896" y="244" width="3" height="9" fill="#000"/>
<rect x="897" y="245" width="1" height="7" fill="#ff0000"/>
<rect x="901" y="244" width="1" height="5" fill="#000"/>
<rect x="900" y="246" width="3" height="1" fill="#000"/>
<rect x="905" y="220" width="1" height="27" fill="#000"/>
<rect x="904" y="229" width="3" height="18" fill="#000"/>
<rect x="905" y="230" width="1" height="16" fill="#ff0000"/>
<rect x="909" y="224" width="1" height="19" fill="#000"/>
<rect x="908" y="226" width="3" height="5" fill="#000"/>
<rect x="909" y="227" width="1" height="3" fill="#ff0000"/>
<rect x="913" y="219" width="1" height="18" fill="#000"/>
<rect x="912" y="226" width="3" height="1" fill="#000"/>
<rect x="917" y="214" width="1" height="33" fill="#000"/>
<rect x="916" y="226" width="3" height="15" fill="#000"/>
<rect x="917" y="227" width="1" height="13" fill="#00ff00"/>
<rect x="921" y="229" width="1" height="18" fill="#000"/>
<rect x="920" y="237" width="3" height="4" fill="#000"/>
<rect x="921" y="238" width="1" height="2" fill="#ff0000"/>
<rect x="925" y="231" width="1" height="8" fill="#000"/>
<rect x="924" y="234" width="3" height="4" fill="#000"/>
<rect x="925" y="235" width="1" height="2" fill="#ff0000"/>
</g>
<polyline points="4.7,269.2 15.8,266.5 25.3,265.0 37.1,261.0 42.7,265.3 50.6,269.7 57.7,271.3 66.4,271.3 74.2,269.2 81.5,256.6 85.5,250.2 89.5,244.7 93.5,235.6 97.5,233.6 101.5,234.4 105.5,229.8 109.5,225.2 113.5,221.8 117.5,216.0 121.5,208.4 125.5,203.0 129.5,200.3 133.5,202.9 137.5,204.9 141.5,211.3 145.5,214.5 149.5,208.7 153.5,199.0 157.5,193.4 161.5,187.5 165.5,186.6 169.5,184.4 173.5,181.9 177.5,177.6 181.5,175.6 185.5,179.2 189.5,184.3 193.5,189.3 197.5,196.7 201.5,207.6 205.5,218.2 209.5,230.3 213.5,240.9 217.5,256.1 221.5,265.2 225.5,264.5 229.5,258.5 233.5,249.9 237.5,244.7 241.5,238.1 245.5,225.7 249.5,214.2 253.5,206.4 257.5,199.5 261.5,203.4 265.5,203.6 269.5,203.6 273.5,194.2 277.5,179.2 281.5,167.6 285.5,159.0 289.5,152.3 293.5,145.8 297.5,145.2 301.5,145.5 305.5,142.7 309.5,142.3 313.5,139.8 317.5,139.4 321.5,143.0 325.5,142.6 329.5,133.8 333.5,131.9 337.5,129.7 341.5,125.0 345.5,124.1 349.5,124.0 353.5,125.5 357.5,130.1 361.5,135.1 365.5,139.2 369.5,144.3 373.5,153.2 377.5,158.9 381.5,161.3 385.5,167.6 389.5,171.4 393.5,180.0 397.5,193.8 401.5,193.5 405.5,193.4 409.5,197.1 413.5,197.3 417.5,197.4 421.5,206.3 425.5,209.2 429.5,209.1 433.5,208.1 437.5,210.2 441.5,209.5 445.5,208.6 449.5,208.1 453.5,208.1 457.5,207.5 461.5,206.3 465.5,205.6 469.5,192.2 473.5,184.3 477.5,176.8 481.5,170.3 485.5,164.7 489.5,161.9 493.5,157.4 497.5,151.1 501.5,146.3 505.5,141.1 509.5,135.5 513.5,130.6 517.5,126.9 521.5,122.8 525.5,122.9 529.5,118.0 533.5,112.9 537.5,106.6 541.5,103.0 545.5,106.2 549.5,106.3 553.5,106.9 557.5,107.4 561.5,106.9 565.5,107.6 569.5,109.5 573.5,109.9 577.5,106.9 581.5,104.4 585.5,102.2 589.5,99.3 593.5,98.4 597.5,96.8 601.5,95.3 605.5,94.9 609.5,97.4 613.5,101.0 617.5,102.9 621.5,97.7 625.5,89.0 629.5,80.4 633.5,74.1 637.5,69.3 641.5,65.9 645.5,63.3 649.5,61.6 653.5,59.1 657.5,58.7 661.5,60.2 665.5,65.1 669.5,75.5 673.5,73.7 677.5,73.0 681.5,72.0 685.5,71.8 689.5,75.1 693.5,74.9 697.5,66.3 701.5,61.7 705.5,57.0 709.5,54.6 713.5,51.8 717.5,49.2 721.5,47.8 725.5,47.0 729.5,48.0 733.5,48.4 737.5,46.3 741.5,46.8 745.5,49.8 749.5,50.5 753.5,48.9 757.5,48.0 761.5,46.6 765.5,45.1 769.5,44.7 773.5,45.7 777.5,49.3 781.5,51.7 785.5,51.8 789.5,52.5 793.5,50.6 797.5,51.1 801.5,51.8 805.5,53.3 809.5,53.9 813.5,54.5 817.5,57.4 821.5,52.8 825.5,52.3 829.5,52.0 833.5,50.3 837.5,44.7 841.5,44.2 845.5,44.6 849.5,47.3 853.5,50.4 857.5,54.5 861.5,59.2 865.5,59.8 869.5,59.4 873.5,67.9 877.5,68.6 881.5,69.8 885.5,75.1 889.5,83.1 893.5,91.5 897.5,98.9 901.5,103.8 905.5,111.6 909.5,120.0 913.5,128.0 917.5,131.5 921.5,141.1 925.5,159.8" fill="none" stroke="#3cb371" stroke-width="1" shape-rendering="crispEdges"/><polyline points="4.7,323.0 15.8,319.0 25.3,315.8 36.3,309.5 45.8,303.2 60.0,305.8 72.7,306.0 77.5,305.0 81.5,302.3 85.5,299.9 89.5,297.6 93.5,293.9 97.5,291.9 101.5,286.7 105.5,283.7 109.5,281.6 113.5,279.4 117.5,275.9 121.5,271.9 125.5,267.6 129.5,263.1 133.5,258.8 137.5,254.3 141.5,250.6 145.5,249.5 149.5,251.2 153.5,253.9 157.5,257.4 161.5,261.9 165.5,265.0 169.5,269.1 173.5,275.6 177.5,280.6 181.5,287.1 185.5,292.0 189.5,296.8 193.5,300.1 197.5,303.2 201.5,307.1 205.5,310.3 209.5,314.3 213.5,318.0 217.5,322.1 221.5,324.0 225.5,323.9 229.5,322.0 233.5,318.2 237.5,315.4 241.5,311.3 245.5,306.8 249.5,301.1 253.5,293.9 257.5,285.8 261.5,278.8 265.5,273.7 269.5,268.5 273.5,262.5 277.5,256.3 281.5,250.1 285.5,244.8 289.5,238.3 293.5,230.4 297.5,223.7 301.5,219.6 305.5,214.9 309.5,210.6 313.5,206.1 317.5,200.6 321.5,198.8 325.5,199.0 329.5,202.3 333.5,204.0 337.5,206.7 341.5,209.1 345.5,209.9 349.5,210.3 353.5,212.5 357.5,216.5 361.5,219.6 365.5,221.8 369.5,224.3 373.5,227.4 377.5,229.7 381.5,230.9 385.5,233.0 389.5,234.2 393.5,236.4 397.5,239.6 401.5,239.4 405.5,239.4 409.5,236.5 413.5,235.5 417.5,233.3 421.5,230.2 425.5,228.6 429.5,227.6 433.5,226.3 437.5,224.7 441.5,223.7 445.5,224.4 449.5,224.0 453.5,224.0 457.5,223.7 461.5,223.0 465.5,222.7 469.5,220.7 473.5,218.8 477.5,216.2 481.5,213.7 485.5,210.6 489.5,208.1 493.5,204.6 497.5,201.5 501.5,198.0 505.5,194.2 509.5,190.5 513.5,187.2 517.5,183.8 521.5,180.2 525.5,175.4 529.5,170.7 533.5,165.5 537.5,159.9 541.5,154.7 545.5,150.8 549.5,150.3 553.5,149.5 557.5,148.8 561.5,147.1 565.5,146.3 569.5,144.3 573.5,144.1 577.5,145.4 581.5,146.9 585.5,148.7 589.5,151.4 593.5,150.8 597.5,149.9 601.5,149.1 605.5,148.9 609.5,150.3 613.5,151.7 617.5,152.2 621.5,151.1 625.5,148.8 629.5,145.3 633.5,142.0 637.5,139.0 641.5,137.3 645.5,135.1 649.5,133.6 653.5,130.8 657.5,126.6 661.5,122.4 665.5,118.8 669.5,113.7 673.5,111.4 677.5,109.8 681.5,108.2 685.5,105.8 689.5,102.2 693.5,98.4 697.5,95.5 701.5,94.2 705.5,92.7 709.5,91.7 713.5,90.3 717.5,88.7 721.5,87.2 725.5,85.3 729.5,83.6 733.5,82.4 737.5,80.3 741.5,80.1 745.5,78.5 749.5,78.0 753.5,78.8 757.5,79.2 761.5,79.9 765.5,80.9 769.5,80.6 773.5,81.1 777.5,82.6 781.5,83.7 785.5,83.7 789.5,84.0 793.5,83.5 797.5,85.9 801.5,87.8 805.5,89.5 809.5,90.6 813.5,92.2 817.5,95.6 821.5,98.2 825.5,101.0 829.5,103.6 833.5,105.8 837.5,109.5 841.5,111.5 845.5,112.1 849.5,116.7 853.5,121.3 857.5,124.5 861.5,128.5 865.5,137.4 869.5,146.2 873.5,155.9 877.5,162.3 881.5,169.8 885.5,177.2 889.5,184.4 893.5,191.4 897.5,197.1 901.5,201.8 905.5,206.2 909.5,210.4 913.5,214.2 917.5,217.1 921.5,221.4 925.5,226.8" fill="none" stroke="#3cb371" stroke-width="1" shape-rendering="crispEdges"/><polyline points="4.7,376.6 17.4,370.3 21.3,372.7 27.6,367.1 36.3,359.2 42.7,349.0 48.2,338.7 50.6,336.3 55.3,339.5 63.2,341.4 72.7,342.3 77.5,345.0 81.5,348.1 85.5,349.6 89.5,350.5 93.5,352.1 97.5,350.1 101.5,339.0 105.5,337.6 109.5,338.1 113.5,337.1 117.5,335.9 121.5,335.3 125.5,332.1 129.5,325.8 133.5,314.6 137.5,303.7 141.5,289.8 145.5,284.4 149.5,293.7 153.5,308.8 157.5,321.5 161.5,336.4 165.5,343.4 169.5,353.9 173.5,369.2 177.5,383.7 181.5,398.7 185.5,404.9 189.5,409.3 193.5,410.8 197.5,409.7 201.5,406.5 205.5,402.5 209.5,398.2 213.5,395.1 217.5,388.2 221.5,382.9 225.5,383.3 229.5,385.4 233.5,386.5 237.5,386.2 241.5,384.4 245.5,387.9 249.5,388.1 253.5,381.5 257.5,372.2 261.5,354.2 265.5,343.9 269.5,333.4 273.5,330.8 277.5,333.4 281.5,332.7 285.5,330.6 289.5,324.3 293.5,315.1 297.5,302.2 301.5,293.7 305.5,287.1 309.5,279.0 313.5,272.4 317.5,261.7 321.5,254.5 325.5,255.4 329.5,270.8 333.5,276.1 337.5,283.7 341.5,293.2 345.5,295.7 349.5,296.6 353.5,299.6 357.5,302.9 361.5,304.1 365.5,304.5 369.5,304.3 373.5,301.7 377.5,300.5 381.5,300.6 385.5,298.5 389.5,297.0 393.5,292.9 397.5,285.3 401.5,285.4 405.5,285.3 409.5,275.9 413.5,273.8 417.5,269.2 421.5,254.1 425.5,248.0 429.5,246.0 433.5,244.4 437.5,239.2 441.5,237.9 445.5,240.1 449.5,239.9 453.5,239.9 457.5,239.8 461.5,239.7 465.5,239.9 469.5,249.3 473.5,253.2 477.5,255.6 481.5,257.2 485.5,256.5 489.5,254.2 493.5,251.8 497.5,251.8 501.5,249.6 505.5,247.2 509.5,245.5 513.5,243.9 517.5,240.6 521.5,237.6 525.5,227.9 529.5,223.4 533.5,218.1 537.5,213.2 541.5,206.4 545.5,195.4 549.5,194.2 553.5,192.1 557.5,190.3 561.5,187.2 565.5,184.9 569.5,179.2 573.5,178.3 577.5,184.0 581.5,189.3 585.5,195.3 589.5,203.5 593.5,203.3 597.5,203.0 601.5,203.0 605.5,202.9 609.5,203.3 613.5,202.5 617.5,201.4 621.5,204.6 625.5,208.6 629.5,210.2 633.5,210.0 637.5,208.7 641.5,208.7 645.5,206.8 649.5,205.7 653.5,202.6 657.5,194.5 661.5,184.7 665.5,172.5 669.5,151.8 673.5,149.1 677.5,146.7 681.5,144.4 685.5,139.7 689.5,129.3 693.5,121.9 697.5,124.7 701.5,126.6 705.5,128.5 709.5,128.8 713.5,128.9 717.5,128.2 721.5,126.6 725.5,123.5 729.5,119.2 733.5,116.4 737.5,114.3 741.5,113.3 745.5,107.1 749.5,105.4 753.5,108.6 757.5,110.3 761.5,113.3 765.5,116.7 769.5,116.4 773.5,116.5 777.5,116.0 781.5,115.7 785.5,115.7 789.5,115.5 793.5,116.4 797.5,120.7 801.5,123.8 805.5,125.6 809.5,127.3 813.5,129.9 817.5,133.9 821.5,143.6 825.5,149.7 829.5,155.3 833.5,161.2 837.5,174.3 841.5,178.7 845.5,179.6 849.5,186.0 853.5,192.3 857.5,194.5 861.5,197.8 865.5,215.0 869.5,233.0 873.5,243.9 877.5,255.9 881.5,269.8 885.5,279.4 889.5,285.8 893.5,291.3 897.5,295.3 901.5,299.9 905.5,300.9 909.5,300.7 913.5,300.4 917.5,302.6 921.5,301.7 925.5,293.9" fill="none" stroke="#3cb371" stroke-width="1" shape-rendering="crispEdges"/>
<g shape-rendering="crispEdges">
<rect x="5" y="63" width="1162" height="2" fill="#ff0000"/>
<rect x="5" y="158" width="1162" height="2" fill="#00ff00"/>
<rect x="5" y="242" width="1162" height="2" fill="#0000ff"/>
<rect x="5" y="337" width="1162" height="2" fill="#0000ff"/>
</g>
</svg>
<g shape-rendering="crispEdges">
<rect x="4" y="156" width="6" height="6" fill="#00ff00"/>
<rect x="6" y="158" width="2" height="2" fill="#fff"/>
<rect x="1161" y="156" width="6" height="6" fill="#00ff00"/>
<rect x="1163" y="158" width="2" height="2" fill="#fff"/>
<rect x="4" y="240" width="6" height="6" fill="#0000ff"/>
<rect x="6" y="242" width="2" height="2" fill="#fff"/>
<rect x="1161" y="240" width="6" height="6" fill="#0000ff"/>
<rect x="1163" y="242" width="2" height="2" fill="#fff"/>
<rect x="4" y="335" width="6" height="6" fill="#0000ff"/>
<rect x="6" y="337" width="2" height="2" fill="#fff"/>
<rect x="1161" y="335" width="6" height="6" fill="#0000ff"/>
<rect x="1163" y="337" width="2" height="2" fill="#fff"/>
</g>
<text x="11.30" y="219.00" font-size="10" textLength="81.60" lengthAdjust="spacingAndGlyphs" fill="#000" xml:space="preserve" >#7603296 buy 1.00</text>
<text x="19.60" y="35.20" font-size="10" textLength="43.50" lengthAdjust="spacingAndGlyphs" fill="#000" xml:space="preserve" >USOil-,H4</text>
<text x="68.90" y="35.20" font-size="10" textLength="141.30" lengthAdjust="spacingAndGlyphs" fill="#000" xml:space="preserve" >109.429 109.872 109.429 109.724</text>
<path d="M8 30 L15 30 L11.5 34 Z" fill="#000"/>
<path d="M927.9 23 L939 23 L933.5 29.2 Z" fill="#000"/>
<path d="M931.9 224.9 L956.9 265.1 L959.9 262.2 L959.7 280.5 L943.6 269.5 L948.1 268.9 Z" fill="#1fa01f"/>
<g shape-rendering="crispEdges">
<rect x="1168" y="35" width="3" height="1" fill="#000"/>
<rect x="1168" y="68" width="3" height="1" fill="#000"/>
<rect x="1168" y="101" width="3" height="1" fill="#000"/>
<rect x="1168" y="134" width="3" height="1" fill="#000"/>
<rect x="1168" y="167" width="3" height="1" fill="#000"/>
<rect x="1168" y="200" width="3" height="1" fill="#000"/>
<rect x="1168" y="233" width="3" height="1" fill="#000"/>
<rect x="1168" y="266" width="3" height="1" fill="#000"/>
<rect x="1168" y="299" width="3" height="1" fill="#000"/>
<rect x="1168" y="332" width="3" height="1" fill="#000"/>
<rect x="1168" y="365" width="3" height="1" fill="#000"/>
<rect x="1168" y="397" width="3" height="1" fill="#000"/>
</g>
<text x="1173.30" y="39.00" font-size="9.6" textLength="32.53" lengthAdjust="spacingAndGlyphs" fill="#000" xml:space="preserve" >124.150</text>
<text x="1173.30" y="71.95" font-size="9.6" textLength="32.53" lengthAdjust="spacingAndGlyphs" fill="#000" xml:space="preserve" >121.770</text>
<text x="1173.30" y="104.90" font-size="9.6" textLength="31.86" lengthAdjust="spacingAndGlyphs" fill="#000" xml:space="preserve" >119.320</text>
<text x="1173.30" y="137.85" font-size="9.6" textLength="31.86" lengthAdjust="spacingAndGlyphs" fill="#000" xml:space="preserve" >116.940</text>
<text x="1173.30" y="170.80" font-size="9.6" textLength="31.86" lengthAdjust="spacingAndGlyphs" fill="#000" xml:space="preserve" >114.560</text>
<text x="1173.30" y="203.75" font-size="9.6" textLength="31.20" lengthAdjust="spacingAndGlyphs" fill="#000" xml:space="preserve" >112.110</text>
<text x="1173.30" y="236.70" font-size="9.6" textLength="32.53" lengthAdjust="spacingAndGlyphs" fill="#000" xml:space="preserve" >109.730</text>
<text x="1173.30" y="269.65" font-size="9.6" textLength="32.53" lengthAdjust="spacingAndGlyphs" fill="#000" xml:space="preserve" >107.350</text>
<text x="1173.30" y="302.60" font-size="9.6" textLength="32.53" lengthAdjust="spacingAndGlyphs" fill="#000" xml:space="preserve" >104.900</text>
<text x="1173.30" y="335.55" font-size="9.6" textLength="32.53" lengthAdjust="spacingAndGlyphs" fill="#000" xml:space="preserve" >102.520</text>
<text x="1173.30" y="368.50" font-size="9.6" textLength="32.53" lengthAdjust="spacingAndGlyphs" fill="#000" xml:space="preserve" >100.140</text>
<text x="1173.30" y="401.45" font-size="9.6" textLength="27.53" lengthAdjust="spacingAndGlyphs" fill="#000" xml:space="preserve" >97.760</text>
<rect x="1169" y="58" width="41" height="11" fill="#ff0000" shape-rendering="crispEdges"/>
<text x="1173.30" y="67.00" font-size="9.6" textLength="32.53" lengthAdjust="spacingAndGlyphs" fill="#fff" xml:space="preserve" >122.066</text>
<rect x="1169" y="153" width="41" height="11" fill="#00ff00" shape-rendering="crispEdges"/>
<text x="1173.30" y="162.00" font-size="9.6" textLength="31.86" lengthAdjust="spacingAndGlyphs" fill="#fff" xml:space="preserve" >115.106</text>
<rect x="1169" y="228" width="41" height="11" fill="#000000" shape-rendering="crispEdges"/>
<text x="1173.30" y="237.00" font-size="9.6" textLength="32.53" lengthAdjust="spacingAndGlyphs" fill="#fff" xml:space="preserve" >109.724</text>
<rect x="1169" y="237" width="41" height="11" fill="#0000ff" shape-rendering="crispEdges"/>
<text x="1173.30" y="246.00" font-size="9.6" textLength="32.53" lengthAdjust="spacingAndGlyphs" fill="#fff" xml:space="preserve" >109.036</text>
<rect x="1169" y="332" width="41" height="11" fill="#0000ff" shape-rendering="crispEdges"/>
<text x="1173.30" y="341.00" font-size="9.6" textLength="32.53" lengthAdjust="spacingAndGlyphs" fill="#fff" xml:space="preserve" >102.076</text>
<svg x="5" y="405" width="1162" height="95" viewBox="5 405 1162 95" overflow="hidden">
<g shape-rendering="crispEdges">
<rect x="4" y="429" width="3" height="19" fill="#00ff00"/>
<rect x="8" y="433" width="3" height="15" fill="#00ff00"/>
<rect x="12" y="432" width="3" height="16" fill="#00ff00"/>
<rect x="16" y="434" width="3" height="14" fill="#00ff00"/>
<rect x="20" y="439" width="3" height="9" fill="#00ff00"/>
<rect x="24" y="439" width="3" height="9" fill="#00ff00"/>
<rect x="28" y="437" width="3" height="11" fill="#00ff00"/>
<rect x="32" y="436" width="3" height="12" fill="#00ff00"/>
<rect x="36" y="437" width="3" height="11" fill="#00ff00"/>
<rect x="40" y="438" width="3" height="10" fill="#00ff00"/>
<rect x="44" y="438" width="3" height="10" fill="#00ff00"/>
<rect x="48" y="440" width="3" height="8" fill="#00ff00"/>
<rect x="52" y="442" width="3" height="6" fill="#00ff00"/>
<rect x="56" y="443" width="3" height="5" fill="#00ff00"/>
<rect x="60" y="444" width="3" height="4" fill="#00ff00"/>
<rect x="64" y="443" width="3" height="5" fill="#00ff00"/>
<rect x="68" y="441" width="3" height="7" fill="#00ff00"/>
<rect x="72" y="438" width="3" height="10" fill="#00ff00"/>
<rect x="76" y="435" width="3" height="13" fill="#00ff00"/>
<rect x="80" y="432" width="3" height="16" fill="#00ff00"/>
<rect x="84" y="430" width="3" height="18" fill="#00ff00"/>
<rect x="88" y="429" width="3" height="19" fill="#00ff00"/>
<rect x="92" y="426" width="3" height="22" fill="#00ff00"/>
<rect x="96" y="428" width="3" height="20" fill="#00ff00"/>
<rect x="100" y="427" width="3" height="21" fill="#00ff00"/>
<rect x="104" y="427" width="3" height="21" fill="#00ff00"/>
<rect x="108" y="426" width="3" height="22" fill="#00ff00"/>
<rect x="112" y="426" width="3" height="22" fill="#00ff00"/>
<rect x="116" y="425" width="3" height="23" fill="#00ff00"/>
<rect x="120" y="423" width="3" height="25" fill="#00ff00"/>
<rect x="124" y="422" width="3" height="26" fill="#00ff00"/>
<rect x="128" y="422" width="3" height="26" fill="#00ff00"/>
<rect x="132" y="424" width="3" height="24" fill="#00ff00"/>
<rect x="136" y="425" width="3" height="23" fill="#00ff00"/>
<rect x="140" y="427" width="3" height="21" fill="#00ff00"/>
<rect x="144" y="431" width="3" height="17" fill="#00ff00"/>
<rect x="148" y="439" width="3" height="9" fill="#00ff00"/>
<rect x="152" y="447" width="3" height="1" fill="#00ff00"/>
<rect x="156" y="448" width="3" height="6" fill="#00ff00"/>
<rect x="160" y="448" width="3" height="12" fill="#00ff00"/>
<rect x="164" y="448" width="3" height="14" fill="#00ff00"/>
<rect x="168" y="448" width="3" height="17" fill="#00ff00"/>
<rect x="172" y="448" width="3" height="23" fill="#00ff00"/>
<rect x="176" y="448" width="3" height="27" fill="#00ff00"/>
<rect x="180" y="448" width="3" height="31" fill="#00ff00"/>
<rect x="184" y="448" width="3" height="31" fill="#00ff00"/>
<rect x="188" y="448" width="3" height="29" fill="#00ff00"/>
<rect x="192" y="448" width="3" height="25" fill="#00ff00"/>
<rect x="196" y="448" width="3" height="20" fill="#00ff00"/>
<rect x="200" y="448" width="3" height="16" fill="#00ff00"/>
<rect x="204" y="448" width="3" height="12" fill="#00ff00"/>
<rect x="208" y="448" width="3" height="10" fill="#00ff00"/>
<rect x="212" y="448" width="3" height="10" fill="#00ff00"/>
<rect x="216" y="448" width="3" height="9" fill="#00ff00"/>
<rect x="220" y="448" width="3" height="4" fill="#00ff00"/>
<rect x="224" y="447" width="3" height="1" fill="#00ff00"/>
<rect x="228" y="445" width="3" height="3" fill="#00ff00"/>
<rect x="232" y="442" width="3" height="6" fill="#00ff00"/>
<rect x="236" y="440" width="3" height="8" fill="#00ff00"/>
<rect x="240" y="438" width="3" height="10" fill="#00ff00"/>
<rect x="244" y="433" width="3" height="15" fill="#00ff00"/>
<rect x="248" y="429" width="3" height="19" fill="#00ff00"/>
<rect x="252" y="426" width="3" height="22" fill="#00ff00"/>
<rect x="256" y="423" width="3" height="25" fill="#00ff00"/>
<rect x="260" y="424" width="3" height="24" fill="#00ff00"/>
<rect x="264" y="425" width="3" height="23" fill="#00ff00"/>
<rect x="268" y="425" width="3" height="23" fill="#00ff00"/>
<rect x="272" y="421" width="3" height="27" fill="#00ff00"/>
<rect x="276" y="417" width="3" height="31" fill="#00ff00"/>
<rect x="280" y="414" width="3" height="34" fill="#00ff00"/>
<rect x="284" y="412" width="3" height="36" fill="#00ff00"/>
<rect x="288" y="411" width="3" height="37" fill="#00ff00"/>
<rect x="292" y="409" width="3" height="39" fill="#00ff00"/>
<rect x="296" y="410" width="3" height="38" fill="#00ff00"/>
<rect x="300" y="413" width="3" height="35" fill="#00ff00"/>
<rect x="304" y="415" width="3" height="33" fill="#00ff00"/>
<rect x="308" y="415" width="3" height="33" fill="#00ff00"/>
<rect x="312" y="415" width="3" height="33" fill="#00ff00"/>
<rect x="316" y="415" width="3" height="33" fill="#00ff00"/>
<rect x="320" y="421" width="3" height="27" fill="#00ff00"/>
<rect x="324" y="427" width="3" height="21" fill="#00ff00"/>
<rect x="328" y="438" width="3" height="10" fill="#00ff00"/>
<rect x="332" y="443" width="3" height="5" fill="#00ff00"/>
<rect x="336" y="447" width="3" height="1" fill="#00ff00"/>
<rect x="340" y="448" width="3" height="7" fill="#00ff00"/>
<rect x="344" y="448" width="3" height="9" fill="#00ff00"/>
<rect x="348" y="448" width="3" height="8" fill="#00ff00"/>
<rect x="352" y="448" width="3" height="8" fill="#00ff00"/>
<rect x="356" y="448" width="3" height="8" fill="#00ff00"/>
<rect x="360" y="448" width="3" height="7" fill="#00ff00"/>
<rect x="364" y="448" width="3" height="4" fill="#00ff00"/>
<rect x="368" y="448" width="3" height="2" fill="#00ff00"/>
<rect x="372" y="448" width="3" height="1" fill="#00ff00"/>
<rect x="376" y="447" width="3" height="1" fill="#00ff00"/>
<rect x="380" y="447" width="3" height="1" fill="#00ff00"/>
<rect x="384" y="446" width="3" height="2" fill="#00ff00"/>
<rect x="388" y="446" width="3" height="2" fill="#00ff00"/>
<rect x="392" y="444" width="3" height="4" fill="#00ff00"/>
<rect x="396" y="443" width="3" height="5" fill="#00ff00"/>
<rect x="400" y="444" width="3" height="4" fill="#00ff00"/>
<rect x="404" y="444" width="3" height="4" fill="#00ff00"/>
<rect x="408" y="446" width="3" height="2" fill="#00ff00"/>
<rect x="412" y="446" width="3" height="2" fill="#00ff00"/>
<rect x="416" y="447" width="3" height="1" fill="#00ff00"/>
<rect x="420" y="446" width="3" height="2" fill="#00ff00"/>
<rect x="424" y="446" width="3" height="2" fill="#00ff00"/>
<rect x="428" y="446" width="3" height="2" fill="#00ff00"/>
<rect x="432" y="446" width="3" height="2" fill="#00ff00"/>
<rect x="436" y="446" width="3" height="2" fill="#00ff00"/>
<rect x="440" y="444" width="3" height="4" fill="#00ff00"/>
<rect x="444" y="446" width="3" height="2" fill="#00ff00"/>
<rect x="448" y="446" width="3" height="2" fill="#00ff00"/>
<rect x="452" y="446" width="3" height="2" fill="#00ff00"/>
<rect x="456" y="446" width="3" height="2" fill="#00ff00"/>
<rect x="460" y="444" width="3" height="4" fill="#00ff00"/>
<rect x="464" y="444" width="3" height="4" fill="#00ff00"/>
<rect x="468" y="439" width="3" height="9" fill="#00ff00"/>
<rect x="472" y="436" width="3" height="12" fill="#00ff00"/>
<rect x="476" y="434" width="3" height="14" fill="#00ff00"/>
<rect x="480" y="432" width="3" height="16" fill="#00ff00"/>
<rect x="484" y="431" width="3" height="17" fill="#00ff00"/>
<rect x="488" y="431" width="3" height="17" fill="#00ff00"/>
<rect x="492" y="430" width="3" height="18" fill="#00ff00"/>
<rect x="496" y="429" width="3" height="19" fill="#00ff00"/>
<rect x="500" y="428" width="3" height="20" fill="#00ff00"/>
<rect x="504" y="427" width="3" height="21" fill="#00ff00"/>
<rect x="508" y="426" width="3" height="22" fill="#00ff00"/>
<rect x="512" y="425" width="3" height="23" fill="#00ff00"/>
<rect x="516" y="425" width="3" height="23" fill="#00ff00"/>
<rect x="520" y="425" width="3" height="23" fill="#00ff00"/>
<rect x="524" y="425" width="3" height="23" fill="#00ff00"/>
<rect x="528" y="423" width="3" height="25" fill="#00ff00"/>
<rect x="532" y="421" width="3" height="27" fill="#00ff00"/>
<rect x="536" y="419" width="3" height="29" fill="#00ff00"/>
<rect x="540" y="418" width="3" height="30" fill="#00ff00"/>
<rect x="544" y="420" width="3" height="28" fill="#00ff00"/>
<rect x="548" y="424" width="3" height="24" fill="#00ff00"/>
<rect x="552" y="428" width="3" height="20" fill="#00ff00"/>
<rect x="556" y="431" width="3" height="17" fill="#00ff00"/>
<rect x="560" y="432" width="3" height="16" fill="#00ff00"/>
<rect x="564" y="434" width="3" height="14" fill="#00ff00"/>
<rect x="568" y="435" width="3" height="13" fill="#00ff00"/>
<rect x="572" y="437" width="3" height="11" fill="#00ff00"/>
<rect x="576" y="442" width="3" height="6" fill="#00ff00"/>
<rect x="580" y="446" width="3" height="2" fill="#00ff00"/>
<rect x="584" y="448" width="3" height="1" fill="#00ff00"/>
<rect x="588" y="448" width="3" height="4" fill="#00ff00"/>
<rect x="592" y="448" width="3" height="2" fill="#00ff00"/>
<rect x="596" y="446" width="3" height="2" fill="#00ff00"/>
<rect x="600" y="445" width="3" height="3" fill="#00ff00"/>
<rect x="604" y="442" width="3" height="6" fill="#00ff00"/>
<rect x="608" y="442" width="3" height="6" fill="#00ff00"/>
<rect x="612" y="442" width="3" height="6" fill="#00ff00"/>
<rect x="616" y="438" width="3" height="10" fill="#00ff00"/>
<rect x="620" y="434" width="3" height="14" fill="#00ff00"/>
<rect x="624" y="430" width="3" height="18" fill="#00ff00"/>
<rect x="628" y="427" width="3" height="21" fill="#00ff00"/>
<rect x="632" y="426" width="3" height="22" fill="#00ff00"/>
<rect x="636" y="426" width="3" height="22" fill="#00ff00"/>
<rect x="640" y="427" width="3" height="21" fill="#00ff00"/>
<rect x="644" y="428" width="3" height="20" fill="#00ff00"/>
<rect x="648" y="430" width="3" height="18" fill="#00ff00"/>
<rect x="652" y="430" width="3" height="18" fill="#00ff00"/>
<rect x="656" y="429" width="3" height="19" fill="#00ff00"/>
<rect x="660" y="431" width="3" height="17" fill="#00ff00"/>
<rect x="664" y="433" width="3" height="15" fill="#00ff00"/>
<rect x="668" y="433" width="3" height="15" fill="#00ff00"/>
<rect x="672" y="432" width="3" height="16" fill="#00ff00"/>
<rect x="676" y="433" width="3" height="15" fill="#00ff00"/>
<rect x="680" y="433" width="3" height="15" fill="#00ff00"/>
<rect x="684" y="433" width="3" height="15" fill="#00ff00"/>
<rect x="688" y="433" width="3" height="15" fill="#00ff00"/>
<rect x="692" y="430" width="3" height="18" fill="#00ff00"/>
<rect x="696" y="428" width="3" height="20" fill="#00ff00"/>
<rect x="700" y="427" width="3" height="21" fill="#00ff00"/>
<rect x="704" y="426" width="3" height="22" fill="#00ff00"/>
<rect x="708" y="427" width="3" height="21" fill="#00ff00"/>
<rect x="712" y="427" width="3" height="21" fill="#00ff00"/>
<rect x="716" y="429" width="3" height="19" fill="#00ff00"/>
<rect x="720" y="429" width="3" height="19" fill="#00ff00"/>
<rect x="724" y="430" width="3" height="18" fill="#00ff00"/>
<rect x="728" y="432" width="3" height="16" fill="#00ff00"/>
<rect x="732" y="434" width="3" height="14" fill="#00ff00"/>
<rect x="736" y="433" width="3" height="15" fill="#00ff00"/>
<rect x="740" y="437" width="3" height="11" fill="#00ff00"/>
<rect x="744" y="438" width="3" height="10" fill="#00ff00"/>
<rect x="748" y="440" width="3" height="8" fill="#00ff00"/>
<rect x="752" y="443" width="3" height="5" fill="#00ff00"/>
<rect x="756" y="446" width="3" height="2" fill="#00ff00"/>
<rect x="760" y="447" width="3" height="1" fill="#00ff00"/>
<rect x="764" y="448" width="3" height="3" fill="#00ff00"/>
<rect x="768" y="447" width="3" height="1" fill="#00ff00"/>
<rect x="772" y="447" width="3" height="1" fill="#00ff00"/>
<rect x="776" y="446" width="3" height="2" fill="#00ff00"/>
<rect x="780" y="446" width="3" height="2" fill="#00ff00"/>
<rect x="784" y="444" width="3" height="4" fill="#00ff00"/>
<rect x="788" y="443" width="3" height="5" fill="#00ff00"/>
<rect x="792" y="441" width="3" height="7" fill="#00ff00"/>
<rect x="796" y="445" width="3" height="3" fill="#00ff00"/>
<rect x="800" y="448" width="3" height="1" fill="#00ff00"/>
<rect x="804" y="448" width="3" height="2" fill="#00ff00"/>
<rect x="808" y="448" width="3" height="4" fill="#00ff00"/>
<rect x="812" y="448" width="3" height="4" fill="#00ff00"/>
<rect x="816" y="448" width="3" height="8" fill="#00ff00"/>
<rect x="820" y="448" width="3" height="12" fill="#00ff00"/>
<rect x="824" y="448" width="3" height="15" fill="#00ff00"/>
<rect x="828" y="448" width="3" height="16" fill="#00ff00"/>
<rect x="832" y="448" width="3" height="18" fill="#00ff00"/>
<rect x="836" y="448" width="3" height="23" fill="#00ff00"/>
<rect x="840" y="448" width="3" height="23" fill="#00ff00"/>
<rect x="844" y="448" width="3" height="20" fill="#00ff00"/>
<rect x="848" y="448" width="3" height="22" fill="#00ff00"/>
<rect x="852" y="448" width="3" height="24" fill="#00ff00"/>
<rect x="856" y="448" width="3" height="23" fill="#00ff00"/>
<rect x="860" y="448" width="3" height="23" fill="#00ff00"/>
<rect x="864" y="448" width="3" height="30" fill="#00ff00"/>
<rect x="868" y="448" width="3" height="36" fill="#00ff00"/>
<rect x="872" y="448" width="3" height="41" fill="#00ff00"/>
<rect x="876" y="448" width="3" height="44" fill="#00ff00"/>
<rect x="880" y="448" width="3" height="47" fill="#00ff00"/>
<rect x="884" y="448" width="3" height="48" fill="#00ff00"/>
<rect x="888" y="448" width="3" height="48" fill="#00ff00"/>
<rect x="892" y="448" width="3" height="48" fill="#00ff00"/>
<rect x="896" y="448" width="3" height="46" fill="#00ff00"/>
<rect x="900" y="448" width="3" height="43" fill="#00ff00"/>
<rect x="904" y="448" width="3" height="41" fill="#00ff00"/>
<rect x="908" y="448" width="3" height="38" fill="#00ff00"/>
<rect x="912" y="448" width="3" height="35" fill="#00ff00"/>
<rect x="916" y="448" width="3" height="34" fill="#00ff00"/>
<rect x="920" y="448" width="3" height="32" fill="#00ff00"/>
<rect x="924" y="448" width="3" height="30" fill="#00ff00"/>
</g>
<polyline points="5.5,432.80 9.5,431.20 13.5,429.90 17.5,430.20 21.5,431.30 25.5,432.50 29.5,433.50 33.5,434.30 37.5,435.10 41.5,436.01 45.5,436.59 49.5,437.46 53.5,438.33 57.5,438.79 61.5,439.34 65.5,439.99 69.5,440.58 73.5,440.71 77.5,440.43 81.5,439.79 85.5,438.70 89.5,437.26 93.5,435.36 97.5,433.56 101.5,431.79 105.5,430.23 109.5,428.87 113.5,427.87 117.5,427.11 121.5,426.37 125.5,425.61 129.5,425.19 133.5,424.82 137.5,424.58 141.5,424.58 145.5,425.11 149.5,426.56 153.5,428.98 157.5,432.36 161.5,436.52 165.5,440.92 169.5,445.40 173.5,450.51 177.5,455.81 181.5,461.14 185.5,465.57 189.5,468.88 193.5,471.00 197.5,471.90 201.5,472.12 205.5,471.56 209.5,470.11 213.5,468.23 217.5,465.78 221.5,462.86 225.5,459.71 229.5,456.62 233.5,453.76 237.5,451.09 241.5,448.68 245.5,445.92 249.5,442.72 253.5,439.31 257.5,436.03 261.5,433.31 265.5,431.09 269.5,429.20 273.5,427.11 277.5,424.78 281.5,422.67 285.5,420.78 289.5,419.11 293.5,417.56 297.5,416.00 301.5,414.67 305.5,413.56 309.5,412.89 313.5,412.67 317.5,412.78 321.5,413.78 325.5,415.56 329.5,418.78 333.5,422.44 337.5,426.33 341.5,430.76 345.5,435.39 349.5,439.92 353.5,444.46 357.5,448.32 361.5,451.41 365.5,452.94 369.5,453.67 373.5,453.76 377.5,453.00 381.5,451.92 385.5,450.89 389.5,449.80 393.5,448.49 397.5,447.18 401.5,446.31 405.5,445.70 409.5,445.39 413.5,445.17 417.5,445.17 421.5,445.17 425.5,445.17 429.5,445.44 433.5,445.78 437.5,446.00 441.5,446.00 445.5,446.00 449.5,446.00 453.5,445.89 457.5,445.83 461.5,445.64 465.5,445.40 469.5,444.62 473.5,443.51 477.5,442.38 481.5,440.82 485.5,439.16 489.5,437.49 493.5,435.71 497.5,434.01 501.5,432.20 505.5,430.87 509.5,429.76 513.5,428.78 517.5,428.00 521.5,427.33 525.5,426.67 529.5,425.89 533.5,425.00 537.5,424.00 541.5,423.00 545.5,422.33 549.5,422.22 553.5,422.56 557.5,423.22 561.5,424.00 565.5,425.22 569.5,426.78 573.5,428.78 577.5,431.44 581.5,434.33 585.5,437.11 589.5,439.83 593.5,441.89 597.5,443.44 601.5,444.67 605.5,445.44 609.5,446.00 613.5,446.00 617.5,445.11 621.5,443.44 625.5,440.94 629.5,438.44 633.5,436.22 637.5,434.11 641.5,432.44 645.5,430.89 649.5,429.56 653.5,428.67 657.5,428.11 661.5,428.22 665.5,428.89 669.5,429.67 673.5,430.33 677.5,431.00 681.5,431.56 685.5,431.89 689.5,432.22 693.5,432.33 697.5,432.00 701.5,431.33 705.5,430.56 709.5,430.00 713.5,429.33 717.5,428.89 721.5,428.44 725.5,428.11 729.5,428.33 733.5,429.00 737.5,429.67 741.5,430.89 745.5,432.11 749.5,433.56 753.5,435.11 757.5,437.00 761.5,439.06 765.5,441.13 769.5,442.74 773.5,444.30 777.5,445.30 781.5,446.19 785.5,446.63 789.5,446.63 793.5,446.08 797.5,445.69 801.5,445.48 805.5,445.62 809.5,446.16 813.5,446.88 817.5,447.93 821.5,449.68 825.5,451.87 829.5,454.40 833.5,456.70 837.5,459.14 841.5,461.48 845.5,463.26 849.5,465.18 853.5,466.98 857.5,468.21 861.5,469.11 865.5,470.66 869.5,472.66 873.5,474.66 877.5,477.00 881.5,480.01 885.5,482.90 889.5,485.58 893.5,488.36 897.5,490.91 901.5,492.37 905.5,492.93 909.5,492.61 913.5,491.61 917.5,490.16 921.5,488.38 925.5,486.37" fill="none" stroke="#ff0000" stroke-width="2" stroke-linejoin="round" shape-rendering="crispEdges"/>
</svg>
<text x="9.10" y="415.80" font-size="10" textLength="133.57" lengthAdjust="spacingAndGlyphs" fill="#000" xml:space="preserve" >MACD(12,26,9) -1.7253 -2.2702</text>
<rect x="1168" y="448" width="3" height="1" fill="#000" shape-rendering="crispEdges"/>
<text x="1170.70" y="413.80" font-size="9.6" textLength="27.53" lengthAdjust="spacingAndGlyphs" fill="#000" xml:space="preserve" >2.6099</text>
<text x="1170.70" y="451.90" font-size="9.6" textLength="17.52" lengthAdjust="spacingAndGlyphs" fill="#000" xml:space="preserve" >0.00</text>
<text x="1169.30" y="496.80" font-size="9.6" textLength="25.52" lengthAdjust="spacingAndGlyphs" fill="#000" xml:space="preserve" >-3.099</text>
<svg x="5" y="504" width="1162" height="84" viewBox="5 504 1162 84" overflow="hidden">
<line x1="6" y1="529.5" x2="1167" y2="529.5" stroke="#000" stroke-width="1" stroke-dasharray="3 3" shape-rendering="crispEdges"/>
<line x1="6" y1="562.5" x2="1167" y2="562.5" stroke="#000" stroke-width="1" stroke-dasharray="3 3" shape-rendering="crispEdges"/>
<polyline points="5.0,540.8 9.0,540.8 13.0,542.8 17.0,542.8 21.0,552.5 25.0,542.8 29.0,539.8 33.0,541.7 37.0,541.7 41.0,542.3 45.0,545.0 49.0,547.3 53.0,548.0 57.0,545.8 61.0,545.8 65.0,541.3 69.0,536.8 73.0,538.3 77.0,533.8 81.0,533.8 85.0,533.8 89.0,535.3 93.0,531.5 97.0,540.8 101.0,536.8 105.0,536.8 109.0,535.7 113.0,536.8 117.0,534.5 121.0,532.3 125.0,531.8 129.0,533.8 133.0,538.7 137.0,537.8 141.0,540.5 145.0,550.3 149.0,557.0 153.0,559.3 157.0,559.3 161.0,560.0 164.8,553.3 169.3,557.8 174.5,561.5 180.5,561.5 185.0,552.8 188.8,552.5 197.0,543.2 204.5,543.2 212.8,547.7 217.3,547.7 221.8,540.5 227.0,539.0 233.0,538.3 237.5,540.2 241.3,538.7 246.6,531.8 255.6,531.5 260.8,539.0 268.3,538.7 275.8,529.3 281.0,528.8 287.0,530.0 293.0,527.8 300.6,539.0 305.8,536.8 311.0,536.8 314.8,534.8 318.0,535.3 321.0,547.3 324.8,548.8 329.3,557.0 333.0,551.8 336.8,551.8 341.3,555.3 346.5,548.8 351.0,546.8 354.8,548.0 358.5,547.7 362.3,544.7 366.0,544.3 370.5,543.8 375.0,542.8 378.8,544.0 383.3,543.8 388.5,540.5 391.5,540.8 395.3,543.5 401.3,543.8 405.0,546.5 410.3,548.0 414.0,548.0 417.0,543.8 421.6,545.8 425.3,545.8 432.8,541.7 440.3,542.0 445.6,548.8 449.3,543.8 456.0,543.8 462.0,540.5 466.6,539.8 469.6,531.8 478.0,532.7 484.0,531.8 489.3,536.8 493.8,533.3 499.0,530.8 505.0,530.8 511.8,528.8 515.5,530.0 519.3,529.7 526.0,527.5 530.5,523.3 537.3,520.7 541.0,522.5 544.0,530.0 546.3,538.3 550.0,545.8 556.8,545.8 561.3,539.8 565.0,543.8 569.6,541.7 577.1,552.5 581.6,552.8 588.3,555.8 592.8,539.3 599.6,537.8 609.4,543.8 613.1,542.8 622.1,531.8 628.1,531.8 632.6,535.3 638.0,536.8 641.0,537.2 646.3,540.8 650.8,540.8 654.5,538.7 660.5,539.0 665.8,543.2 669.5,538.3 672.5,536.8 677.8,539.3 681.5,538.7 686.0,537.2 689.8,535.3 696.6,529.7 701.0,531.8 705.6,531.8 709.3,535.3 716.8,535.3 721.3,537.8 725.0,538.3 729.6,542.0 734.1,542.0 737.1,535.7 741.6,548.8 745.4,545.8 749.1,545.8 753.6,551.0 758.1,552.2 765.6,551.8 769.4,540.5 773.1,540.8 776.9,543.2 782.1,542.8 785.9,538.7 789.6,540.8 793.4,537.8 797.1,551.8 801.0,551.8 807.0,548.8 811.5,550.3 821.3,558.8 827.3,555.8 833.3,556.7 837.3,562.7 845.7,547.7 849.8,554.8 854.3,554.8 857.3,551.0 861.0,551.8 865.6,562.7 874.6,562.7 877.6,561.5 879.8,562.7 885.1,562.7 889.6,560.3 895.6,559.3 901.6,557.3 906.1,553.7 912.1,552.8 916.6,554.8 922.6,554.8 925.6,553.7" fill="none" stroke="#1e90ff" stroke-width="2" stroke-linejoin="round" shape-rendering="crispEdges"/>
</svg>
<text x="9.00" y="514.80" font-size="10" textLength="66.78" lengthAdjust="spacingAndGlyphs" fill="#000" xml:space="preserve" >RSI(14) 40.4903</text>
<g shape-rendering="crispEdges">
<rect x="1168" y="529" width="3" height="1" fill="#000"/>
<rect x="1168" y="562" width="3" height="1" fill="#000"/>
</g>
<text x="1170.70" y="513.00" font-size="9.6" textLength="15.02" lengthAdjust="spacingAndGlyphs" fill="#000" xml:space="preserve" >100</text>
<text x="1170.70" y="533.00" font-size="9.6" textLength="10.01" lengthAdjust="spacingAndGlyphs" fill="#000" xml:space="preserve" >70</text>
<text x="1170.70" y="565.80" font-size="9.6" textLength="10.01" lengthAdjust="spacingAndGlyphs" fill="#000" xml:space="preserve" >30</text>
<text x="1170.70" y="584.80" font-size="9.6" textLength="5.01" lengthAdjust="spacingAndGlyphs" fill="#000" xml:space="preserve" >0</text>
<g shape-rendering="crispEdges">
<rect x="5" y="589" width="1" height="3" fill="#000"/>
<rect x="69" y="589" width="1" height="3" fill="#000"/>
<rect x="133" y="589" width="1" height="3" fill="#000"/>
<rect x="197" y="589" width="1" height="3" fill="#000"/>
<rect x="261" y="589" width="1" height="3" fill="#000"/>
<rect x="325" y="589" width="1" height="3" fill="#000"/>
<rect x="389" y="589" width="1" height="3" fill="#000"/>
<rect x="453" y="589" width="1" height="3" fill="#000"/>
<rect x="517" y="589" width="1" height="3" fill="#000"/>
<rect x="581" y="589" width="1" height="3" fill="#000"/>
<rect x="645" y="589" width="1" height="3" fill="#000"/>
<rect x="709" y="589" width="1" height="3" fill="#000"/>
<rect x="773" y="589" width="1" height="3" fill="#000"/>
<rect x="837" y="589" width="1" height="3" fill="#000"/>
<rect x="901" y="589" width="1" height="3" fill="#000"/>
</g>
<text x="3.80" y="601.10" font-size="9.9" textLength="51.24" lengthAdjust="spacingAndGlyphs" fill="#000" xml:space="preserve" >29 Apr 2022</text>
<text x="67.80" y="601.10" font-size="9.9" textLength="52.28" lengthAdjust="spacingAndGlyphs" fill="#000" xml:space="preserve" >4 May 08:00</text>
<text x="131.80" y="601.10" font-size="9.9" textLength="52.28" lengthAdjust="spacingAndGlyphs" fill="#000" xml:space="preserve" >8 May 23:00</text>
<text x="195.80" y="601.10" font-size="9.9" textLength="56.86" lengthAdjust="spacingAndGlyphs" fill="#000" xml:space="preserve" >11 May 12:00</text>
<text x="259.80" y="601.10" font-size="9.9" textLength="57.57" lengthAdjust="spacingAndGlyphs" fill="#000" xml:space="preserve" >16 May 00:00</text>
<text x="323.80" y="601.10" font-size="9.9" textLength="57.57" lengthAdjust="spacingAndGlyphs" fill="#000" xml:space="preserve" >18 May 16:00</text>
<text x="387.80" y="601.10" font-size="9.9" textLength="57.57" lengthAdjust="spacingAndGlyphs" fill="#000" xml:space="preserve" >23 May 04:00</text>
<text x="451.80" y="601.10" font-size="9.9" textLength="57.57" lengthAdjust="spacingAndGlyphs" fill="#000" xml:space="preserve" >25 May 20:00</text>
<text x="515.80" y="601.10" font-size="9.9" textLength="57.57" lengthAdjust="spacingAndGlyphs" fill="#000" xml:space="preserve" >30 May 08:00</text>
<text x="579.80" y="601.10" font-size="9.9" textLength="49.65" lengthAdjust="spacingAndGlyphs" fill="#000" xml:space="preserve" >2 Jun 00:00</text>
<text x="643.80" y="601.10" font-size="9.9" textLength="49.65" lengthAdjust="spacingAndGlyphs" fill="#000" xml:space="preserve" >6 Jun 12:00</text>
<text x="707.80" y="601.10" font-size="9.9" textLength="49.65" lengthAdjust="spacingAndGlyphs" fill="#000" xml:space="preserve" >9 Jun 04:00</text>
<text x="771.80" y="601.10" font-size="9.9" textLength="54.94" lengthAdjust="spacingAndGlyphs" fill="#000" xml:space="preserve" >13 Jun 16:00</text>
<text x="835.80" y="601.10" font-size="9.9" textLength="54.94" lengthAdjust="spacingAndGlyphs" fill="#000" xml:space="preserve" >16 Jun 08:00</text>
<text x="899.80" y="601.10" font-size="9.9" textLength="54.94" lengthAdjust="spacingAndGlyphs" fill="#000" xml:space="preserve" >20 Jun 22:00</text>
<g shape-rendering="crispEdges">
<rect x="2" y="609" width="1209" height="1" fill="#e3e3e3"/>
<rect x="0" y="611" width="1211" height="1" fill="#000"/>
<rect x="2" y="612" width="1209" height="18" fill="#f0f0f0"/>
<rect x="0" y="630" width="1211" height="3" fill="#f0f0f0"/>
<rect x="0" y="631" width="1211" height="1" fill="#ffffff"/>
<rect x="0" y="632" width="1211" height="1" fill="#f4f4f4"/>
<rect x="998" y="610" width="80" height="20" fill="#fff"/>
<rect x="998" y="611" width="1" height="19" fill="#000"/>
<rect x="1077" y="611" width="1" height="19" fill="#000"/>
<rect x="998" y="629" width="80" height="1" fill="#000"/>
</g>
<text x="17.3" y="626" font-size="12" fill="#6d6d6d">EURUSD-,Daily</text>
<text x="123.9" y="626" font-size="12" fill="#6d6d6d">AUDUSD-,Daily</text>
<text x="234.7" y="626" font-size="12" fill="#6d6d6d">USDCHF-,Daily</text>
<text x="341.2" y="626" font-size="12" fill="#6d6d6d">USDCAD-,Daily</text>
<text x="450.2" y="626" font-size="12" fill="#6d6d6d">USDCNH-,Daily</text>
<text x="561.4" y="626" font-size="12" fill="#6d6d6d">XAUUSD-,Daily</text>
<text x="669.7" y="626" font-size="12" fill="#6d6d6d">UKOil-,H4</text>
<text x="750.2" y="626" font-size="12" fill="#6d6d6d">USOil-,Daily</text>
<text x="840.1" y="626" font-size="12" fill="#6d6d6d">HK50-,H1</text>
<text x="916.4" y="626" font-size="12" fill="#6d6d6d">EURCHF-,H1</text>
<text x="1010" y="626" font-size="12" fill="#000">USOil-,H4</text>
<text x="1089.6" y="626" font-size="12" fill="#6d6d6d">UKOil-,H4</text>
<path d="M1186.2 616.8 L1186.2 623 L1182.8 619.9 Z" fill="#000"/>
<path d="M1201.8 616.8 L1201.8 623 L1205.2 619.9 Z" fill="#a0a0a0"/>
<g shape-rendering="crispEdges">
<rect x="114" y="614" width="1" height="13" fill="#6d6d6d"/>
<rect x="222" y="614" width="1" height="13" fill="#6d6d6d"/>
<rect x="330" y="614" width="1" height="13" fill="#6d6d6d"/>
<rect x="438" y="614" width="1" height="13" fill="#6d6d6d"/>
<rect x="550" y="614" width="1" height="13" fill="#6d6d6d"/>
<rect x="658" y="614" width="1" height="13" fill="#6d6d6d"/>
<rect x="738" y="614" width="1" height="13" fill="#6d6d6d"/>
<rect x="830" y="614" width="1" height="13" fill="#6d6d6d"/>
<rect x="906" y="614" width="1" height="13" fill="#6d6d6d"/>
<rect x="1158" y="614" width="1" height="13" fill="#6d6d6d"/>
</g>
</svg></body></html>
